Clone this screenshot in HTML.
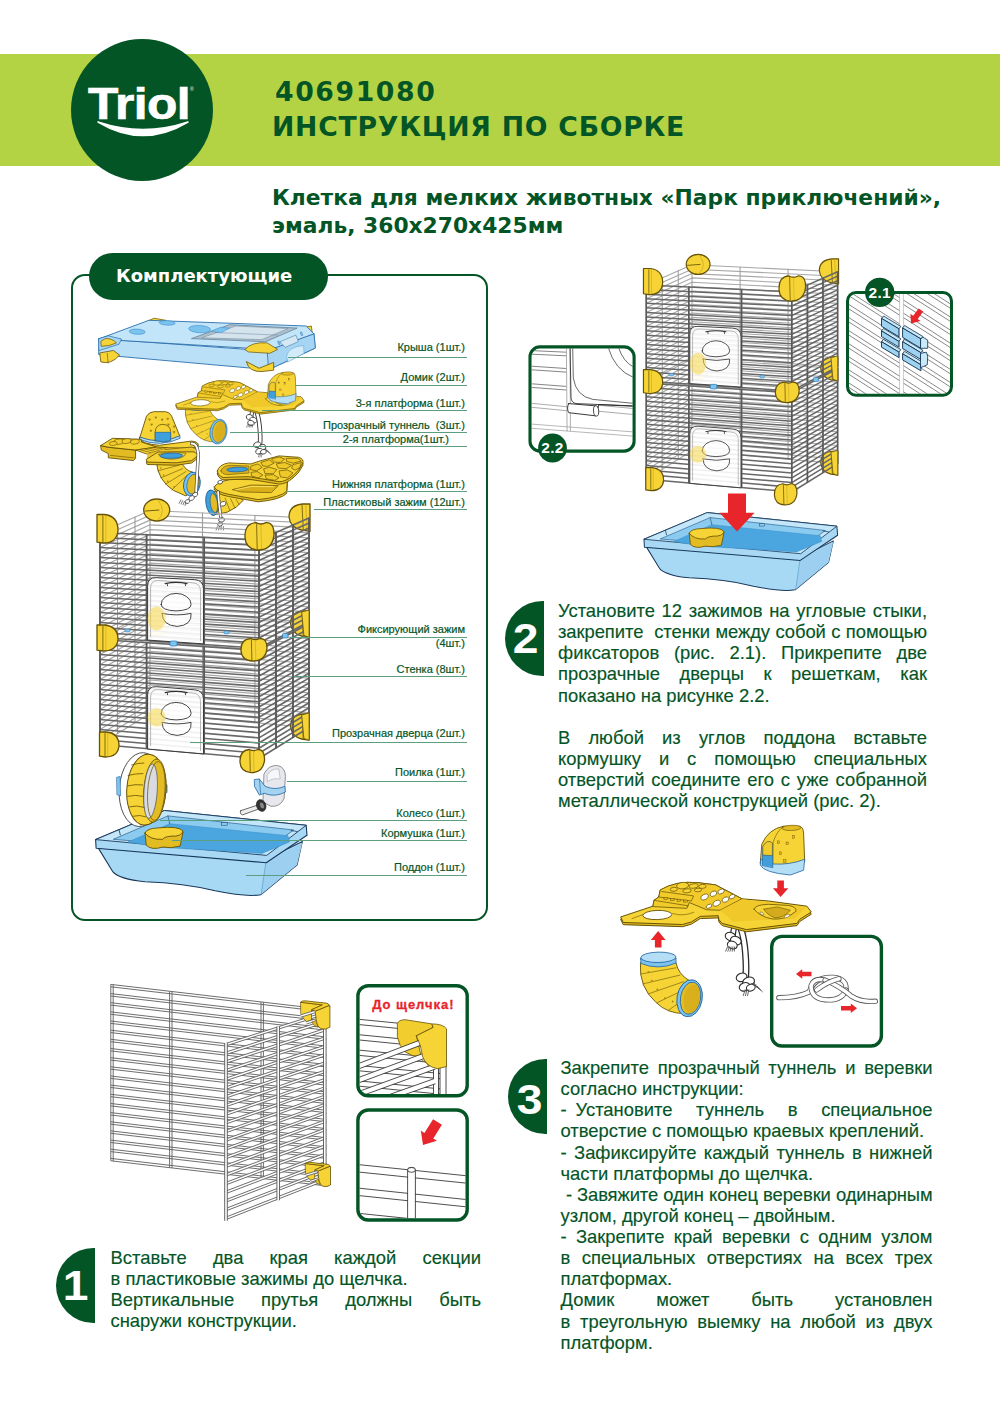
<!DOCTYPE html>
<html lang="ru">
<head>
<meta charset="utf-8">
<title>40691080 Инструкция по сборке</title>
<style>
html,body{margin:0;padding:0;background:#fff;}
body{width:1000px;height:1414px;position:relative;overflow:hidden;font-family:"Liberation Sans",sans-serif;color:#045526;}
.abs{position:absolute;}
.band{left:0;top:54px;width:1000px;height:112px;background:#b3d244;}
.logo{left:71px;top:39px;width:142px;height:142px;border-radius:50%;background:#045526;}
.logo-t{-webkit-text-stroke:0.7px #fff;left:68px;top:79px;width:142px;text-align:center;color:#fff;font-weight:bold;font-size:44px;line-height:50px;letter-spacing:-0.5px;transform:scaleX(1.13);transform-origin:50% 50%;}
.h1{left:275px;font-family:"DejaVu Sans","Liberation Sans",sans-serif;font-weight:bold;font-size:26.7px;line-height:32px;white-space:nowrap;color:#045526;}
.h2{left:272px;font-family:"DejaVu Sans","Liberation Sans",sans-serif;font-weight:bold;font-size:21.8px;line-height:28px;white-space:nowrap;color:#045526;}
.pill{left:89px;top:253px;width:239px;height:47px;border-radius:24px;background:#045526;color:#fff;font-family:"DejaVu Sans","Liberation Sans",sans-serif;font-weight:bold;font-size:18px;line-height:46px;}
.pill span{position:absolute;left:27px;top:0;white-space:nowrap;}
.box{left:71px;top:274px;width:412.5px;height:642.5px;border:2px solid #045526;border-radius:14px;box-sizing:content-box;}
.lbl{-webkit-text-stroke:0.2px #045526;font-size:11px;line-height:13px;white-space:nowrap;text-align:right;right:535px;color:#045526;}
.ll{height:1px;background:#5c9f7e;}
.badge span{display:inline-block;transform:scaleX(1.1);}
.badge{width:39px;height:75px;background:#045526;border-radius:38px 0 0 38px;color:#fff;font-weight:bold;font-size:42px;line-height:75px;text-align:center;}
.txt{-webkit-text-stroke:0.15px #045526;font-size:18.4px;line-height:21.13px;color:#045526;}
.txt div{height:21.13px;white-space:nowrap;}
.txt .d{display:inline-block;white-space:pre;}
.txt .j{text-align:justify;text-align-last:justify;white-space:normal;}
</style>
</head>
<body>
<div class="abs band"></div>
<div class="abs logo"></div>
<div class="abs logo-t">Triol</div>
<svg class="abs" style="left:71px;top:39px" width="142" height="142" viewBox="0 0 142 142"><path d="M27 83 Q72 98 117 83 Q72 110 27 83Z" fill="#fff" stroke="#fff" stroke-width="1.5" stroke-linejoin="round"/><text x="119" y="52" font-size="5" fill="#fff" font-family="Liberation Sans, sans-serif">®</text></svg>
<div class="abs h1" style="top:76px;letter-spacing:1.6px">40691080</div>
<div class="abs h1" style="top:111px;left:272px;letter-spacing:0.76px">ИНСТРУКЦИЯ ПО СБОРКЕ</div>
<div class="abs h2" style="top:184px">Клетка для мелких животных «Парк приключений»,</div>
<div class="abs h2" style="top:212px">эмаль, 360х270х425мм</div>

<div class="abs box"></div>
<div class="abs pill"><span>Комплектующие</span></div>

<!-- ILLUSTRATIONS -->
<svg class="abs" style="left:0;top:0" width="1000" height="1414" viewBox="0 0 1000 1414"><defs><g id="cage"><path d="M100 532.5L150 510.5M150 510.5L309 518M100 537.5L150 515.3M150 515.3L309 522.9M100 542.5L150 520.1M150 520.1L309 527.9M100 547.5L150 524.8M150 524.8L309 532.8M100 552.5L150 529.6M150 529.6L309 537.8M100 557.5L150 534.4M150 534.4L309 542.7M100 562.5L150 539.2M150 539.2L309 547.6M100 567.5L150 544M150 544L309 552.6M100 572.5L150 548.8M150 548.8L309 557.5M100 577.5L150 553.6M150 553.6L309 562.5M100 582.5L150 558.4M150 558.4L309 567.4M100 587.5L150 563.2M150 563.2L309 572.3M100 592.5L150 567.9M150 567.9L309 577.3M100 597.5L150 572.7M150 572.7L309 582.2M100 602.5L150 577.5M150 577.5L309 587.2M100 607.5L150 582.3M150 582.3L309 592.1M100 612.5L150 587.1M150 587.1L309 597.1M100 617.5L150 591.9M150 591.9L309 602M100 622.5L150 596.7M150 596.7L309 606.9M100 627.5L150 601.5M150 601.5L309 611.9M100 632.5L150 606.3M150 606.3L309 616.8M100 637.5L150 611M150 611L309 621.8M100 639.5L150 613M150 613L309 623.7M100 644.5L150 617.7M150 617.7L309 628.7M100 649.5L150 622.5M150 622.5L309 633.6M100 654.5L150 627.3M150 627.3L309 638.6M100 659.5L150 632.1M150 632.1L309 643.5M100 664.5L150 636.9M150 636.9L309 648.4M100 669.5L150 641.7M150 641.7L309 653.4M100 674.5L150 646.5M150 646.5L309 658.3M100 679.5L150 651.3M150 651.3L309 663.3M100 684.5L150 656.1M150 656.1L309 668.2M100 689.5L150 660.8M150 660.8L309 673.2M100 694.5L150 665.6M150 665.6L309 678.1M100 699.5L150 670.4M150 670.4L309 683M100 704.5L150 675.2M150 675.2L309 688M100 709.5L150 680M150 680L309 692.9M100 714.5L150 684.8M150 684.8L309 697.9M100 719.5L150 689.6M150 689.6L309 702.8M100 724.5L150 694.4M150 694.4L309 707.7M100 729.5L150 699.2M150 699.2L309 712.7M100 734.5L150 703.9M150 703.9L309 717.6M100 739.5L150 708.7M150 708.7L309 722.6M100 744.5L150 713.5M150 713.5L309 727.5" fill="none" stroke="#a8a8a8" stroke-width="1.2"/><path d="M117.5 524.3L117.5 628.7M117.5 629.7L117.5 734.1M135 516.6L135 619.5M135 620.4L135 723.3M150 510L150 611.5M150 612.5L150 714M202.5 512.5L202.5 615.1M202.5 616L202.5 718.6M254.9 515L254.9 618.6M254.9 619.6L254.9 723.2" fill="none" stroke="#9c9c9c" stroke-width="1.1"/><ellipse cx="157" cy="622" rx="10" ry="15" fill="#f7dd6e" stroke="#d9bb45" stroke-width="0.8" /><ellipse cx="156" cy="718" rx="8" ry="12" fill="#f8e28a" stroke="#e2c860" stroke-width="0.6" /><path d="M310 504 L302.6 504 Q289 505.3 289 517 Q290.1 527.4 301.6 530 L310 531.3 Z" fill="#f6d435" stroke="#665205" stroke-width="1.3" stroke-linejoin="round" stroke-linecap="round" /><line x1="302" y1="505" x2="303.3" y2="530" stroke="#665205" stroke-width="0.8"/><line x1="305.8" y1="505" x2="307.1" y2="530" stroke="#c9a41a" stroke-width="0.7"/><path d="M309.1 611 L302.6 611 Q290.6 612.2 290.6 623.5 Q291.5 633.5 301.7 636 L309.1 637.2 Z" fill="#f6d435" stroke="#665205" stroke-width="1.3" stroke-linejoin="round" stroke-linecap="round" /><line x1="302.1" y1="612" x2="303.2" y2="636" stroke="#665205" stroke-width="0.8"/><line x1="305.4" y1="612" x2="306.5" y2="636" stroke="#c9a41a" stroke-width="0.7"/><path d="M309.1 714 L302.6 714 Q290.6 715.2 290.6 726.5 Q291.5 736.5 301.7 739 L309.1 740.2 Z" fill="#f6d435" stroke="#665205" stroke-width="1.3" stroke-linejoin="round" stroke-linecap="round" /><line x1="302.1" y1="715" x2="303.2" y2="739" stroke="#665205" stroke-width="0.8"/><line x1="305.4" y1="715" x2="306.5" y2="739" stroke="#c9a41a" stroke-width="0.7"/><path d="M100 532.5L259 540M259 540L309 518M100 537.5L259 545.2M259 545.2L309 522.9M100 542.5L259 550.3M259 550.3L309 527.9M100 547.5L259 555.5M259 555.5L309 532.8M100 552.5L259 560.6M259 560.6L309 537.8M100 557.5L259 565.8M259 565.8L309 542.7M100 562.5L259 570.9M259 570.9L309 547.6M100 567.5L259 576.1M259 576.1L309 552.6M100 572.5L259 581.2M259 581.2L309 557.5M100 577.5L259 586.4M259 586.4L309 562.5M100 582.5L259 591.5M259 591.5L309 567.4M100 587.5L259 596.7M259 596.7L309 572.3M100 592.5L259 601.8M259 601.8L309 577.3M100 597.5L259 607M259 607L309 582.2M100 602.5L259 612.2M259 612.2L309 587.2M100 607.5L259 617.3M259 617.3L309 592.1M100 612.5L259 622.5M259 622.5L309 597.1M100 617.5L259 627.6M259 627.6L309 602M100 622.5L259 632.8M259 632.8L309 606.9M100 627.5L259 637.9M259 637.9L309 611.9M100 632.5L259 643.1M259 643.1L309 616.8M100 637.5L259 648.2M259 648.2L309 621.8M100 639.5L259 650.3M259 650.3L309 623.7M100 644.5L259 655.4M259 655.4L309 628.7M100 649.5L259 660.6M259 660.6L309 633.6M100 654.5L259 665.7M259 665.7L309 638.6M100 659.5L259 670.9M259 670.9L309 643.5M100 664.5L259 676M259 676L309 648.4M100 669.5L259 681.2M259 681.2L309 653.4M100 674.5L259 686.3M259 686.3L309 658.3M100 679.5L259 691.5M259 691.5L309 663.3M100 684.5L259 696.7M259 696.7L309 668.2M100 689.5L259 701.8M259 701.8L309 673.2M100 694.5L259 707M259 707L309 678.1M100 699.5L259 712.1M259 712.1L309 683M100 704.5L259 717.3M259 717.3L309 688M100 709.5L259 722.4M259 722.4L309 692.9M100 714.5L259 727.6M259 727.6L309 697.9M100 719.5L259 732.7M259 732.7L309 702.8M100 724.5L259 737.9M259 737.9L309 707.7M100 729.5L259 743M259 743L309 712.7M100 734.5L259 748.2M259 748.2L309 717.6M100 739.5L259 753.3M259 753.3L309 722.6M100 744.5L259 758.5M259 758.5L309 727.5" fill="none" stroke="#686868" stroke-width="1.65"/><path d="M100 532L100 638M100 639L100 745M146.6 534.2L146.6 641.1M146.6 642.2L146.6 749.1M204.1 536.9L204.1 645M204.1 646.1L204.1 754.2M259 539.5L259 648.7M259 649.8L259 759M276 532L276 639.7M276 640.7L276 748.5M293 524.5L293 630.7M293 631.7L293 737.9M309 517.5L309 622.3M309 623.2L309 728" fill="none" stroke="#5a5a5a" stroke-width="1.9"/><path d="M147.6 639.7 L147.6 586.1 Q147.6 577.1 156.6 577.7 L194.5 579.6 Q203.5 580.2 203.5 589.2 L203.5 643.5 Z" fill="#ffffff" stroke="#3c3c3c" stroke-width="1.0" stroke-linejoin="round" stroke-linecap="round" fill-opacity="0.9"/><path d="M150.6 636.7 L150.6 588.1 Q150.6 580.1 158.6 580.5 L192.5 582.8 Q200.5 583.2 200.5 591.2 L200.5 640.5" fill="none" stroke="#9a9a9a" stroke-width="0.7" stroke-linejoin="round" stroke-linecap="round" /><path d="M161.1 604.4 a15 11 0 0 1 30 0 q0 6 -15 6.5 q-15 -0.5 -15 -6.5Z" fill="#ffffff" stroke="#333" stroke-width="0.9" stroke-linejoin="round" stroke-linecap="round" fill-opacity="0.6"/><path d="M162.1 613.4 q15 3 29 0 q1 12 -14 13 q-15 -1 -15 -13Z" fill="#ffffff" stroke="#333" stroke-width="0.9" stroke-linejoin="round" stroke-linecap="round" fill-opacity="0.6"/><path d="M165.1 583.6 q11 -2.5 22 0" fill="none" stroke="#333" stroke-width="1.1" stroke-linejoin="round" stroke-linecap="round" /><line x1="167.1" y1="583.1" x2="167.6" y2="586.1" stroke="#333" stroke-width="0.9"/><line x1="185.1" y1="583.1" x2="185.6" y2="586.1" stroke="#333" stroke-width="0.9"/><ellipse cx="156.6" cy="618.4" rx="9" ry="12" fill="#f6d74e" stroke="none" stroke-width="0" fill-opacity="0.55"/><path d="M147.6 748.7 L147.6 695.1 Q147.6 686.1 156.6 686.7 L194.5 689.8 Q203.5 690.4 203.5 699.4 L203.5 753.6 Z" fill="#ffffff" stroke="#3c3c3c" stroke-width="1.0" stroke-linejoin="round" stroke-linecap="round" fill-opacity="0.9"/><path d="M150.6 745.7 L150.6 697.1 Q150.6 689.1 158.6 689.5 L192.5 693 Q200.5 693.4 200.5 701.4 L200.5 750.6" fill="none" stroke="#9a9a9a" stroke-width="0.7" stroke-linejoin="round" stroke-linecap="round" /><path d="M161.1 713.4 a15 11 0 0 1 30 0 q0 6 -15 6.5 q-15 -0.5 -15 -6.5Z" fill="#ffffff" stroke="#333" stroke-width="0.9" stroke-linejoin="round" stroke-linecap="round" fill-opacity="0.6"/><path d="M162.1 722.4 q15 3 29 0 q1 12 -14 13 q-15 -1 -15 -13Z" fill="#ffffff" stroke="#333" stroke-width="0.9" stroke-linejoin="round" stroke-linecap="round" fill-opacity="0.6"/><path d="M165.1 692.6 q11 -2.5 22 0" fill="none" stroke="#333" stroke-width="1.1" stroke-linejoin="round" stroke-linecap="round" /><line x1="167.1" y1="692.1" x2="167.6" y2="695.1" stroke="#333" stroke-width="0.9"/><line x1="185.1" y1="692.1" x2="185.6" y2="695.1" stroke="#333" stroke-width="0.9"/><ellipse cx="156.6" cy="717.4" rx="9" ry="9" fill="#f6d74e" stroke="none" stroke-width="0" fill-opacity="0.55"/><rect x="170" y="641" width="7" height="5" rx="1" fill="#7cc3ee" stroke="#2c78b5" stroke-width="0.7" /><rect x="282.5" y="633.5" width="5.5" height="4.5" rx="1" fill="#7cc3ee" stroke="#2c78b5" stroke-width="0.7" /><rect x="125" y="629" width="5" height="3" rx="1" fill="#7cc3ee" stroke="#2c78b5" stroke-width="0.5" /><rect x="224" y="631" width="5" height="3" rx="1" fill="#7cc3ee" stroke="#2c78b5" stroke-width="0.5" /><polygon points="301.7,612 309.1,610 309.1,637.2 303.9,635.5" fill="#f6d435" stroke="#665205" stroke-width="0.8" stroke-linejoin="round" /><polygon points="301.7,715 309.1,713 309.1,740.2 303.9,738.5" fill="#f6d435" stroke="#665205" stroke-width="0.8" stroke-linejoin="round" /><ellipse cx="156.7" cy="510" rx="13" ry="11" fill="#f6d435" stroke="#665205" stroke-width="1.3" /><line x1="144.7" y1="511.1" x2="159.3" y2="510" stroke="#665205" stroke-width="0.9"/><path d="M158 500 q9.1 11 0 20" fill="none" stroke="#c9a41a" stroke-width="0.7" stroke-linejoin="round" stroke-linecap="round" /><path d="M97 514.5 L104.3 514.5 Q118 515.9 118 530.2 Q117 543 103.3 543 L97 542.1 Z" fill="#f6d435" stroke="#665205" stroke-width="1.3" stroke-linejoin="round" stroke-linecap="round" /><line x1="102.9" y1="515.5" x2="102.9" y2="542" stroke="#665205" stroke-width="0.8"/><line x1="105.8" y1="515.5" x2="105.8" y2="542" stroke="#c9a41a" stroke-width="0.6"/><path d="M256 522.6 Q245 523.4 245 536 L245 537.4 Q245.6 549.2 258.1 550 Q272.6 550 274 534.6 Q274 522 265.9 522.6 Q260.9 525.4 256 522.6 Z" fill="#f6d435" stroke="#665205" stroke-width="1.3" stroke-linejoin="round" stroke-linecap="round" /><line x1="256.6" y1="523.5" x2="257.2" y2="549" stroke="#665205" stroke-width="0.8"/><line x1="260.9" y1="525" x2="261.5" y2="549" stroke="#c9a41a" stroke-width="0.6"/><path d="M97 625 L104.3 625 Q118 626.3 118 639.3 Q117 651 103.3 651 L97 650.2 Z" fill="#f6d435" stroke="#665205" stroke-width="1.3" stroke-linejoin="round" stroke-linecap="round" /><line x1="102.9" y1="626" x2="102.9" y2="650" stroke="#665205" stroke-width="0.8"/><line x1="105.8" y1="626" x2="105.8" y2="650" stroke="#c9a41a" stroke-width="0.6"/><path d="M250.9 638.5 Q241 639.1 241 649.5 L241 650.6 Q241.5 660.3 252.7 661 Q265.7 661 267 648.4 Q267 638 259.7 638.5 Q255.3 640.8 250.9 638.5 Z" fill="#f6d435" stroke="#665205" stroke-width="1.3" stroke-linejoin="round" stroke-linecap="round" /><line x1="251.4" y1="639.5" x2="251.9" y2="660" stroke="#665205" stroke-width="0.8"/><line x1="255.3" y1="641" x2="255.8" y2="660" stroke="#c9a41a" stroke-width="0.6"/><path d="M99.5 732 L106.3 732 Q119 733.2 119 745.8 Q118 757 105.3 757 L99.5 756.2 Z" fill="#f6d435" stroke="#665205" stroke-width="1.3" stroke-linejoin="round" stroke-linecap="round" /><line x1="105" y1="733" x2="105" y2="756" stroke="#665205" stroke-width="0.8"/><line x1="107.7" y1="733" x2="107.7" y2="756" stroke="#c9a41a" stroke-width="0.6"/><path d="M249.3 749.5 Q240 750.2 240 760.8 L240 762 Q240.5 771.9 251.1 772.6 Q263.4 772.6 264.6 759.6 Q264.6 749 257.7 749.5 Q253.5 751.8 249.3 749.5 Z" fill="#f6d435" stroke="#665205" stroke-width="1.3" stroke-linejoin="round" stroke-linecap="round" /><line x1="249.8" y1="750.5" x2="250.3" y2="771.6" stroke="#665205" stroke-width="0.8"/><line x1="253.5" y1="752" x2="254" y2="771.6" stroke="#c9a41a" stroke-width="0.6"/></g><g id="tray"><path d="M98.2 847.9L112.5 871.3Q119 879.1 145 881.7Q184 883 215.2 890.8Q246.4 897.3 260.7 894.7L297.1 864.8L302.3 841.4L265.9 859.6Z" fill="#a8d9f4" stroke="#17395c" stroke-width="1.1" stroke-linejoin="round" stroke-linecap="round" /><path d="M265.9 862.2L260.7 894.7L297.1 864.8L302.3 842.7Z" fill="#9ccff0" stroke="none" stroke-width="0" stroke-linejoin="round" stroke-linecap="round" /><polyline points="265.9,862.2 261.2,894.4" fill="none" stroke="#5a9ccc" stroke-width="0.7" stroke-linejoin="round" stroke-linecap="round" /><polygon points="95.6,839.6 164.5,810.5 306.2,825.3 307,835.2 266.2,862.7 96.1,848.2" fill="#a9d8f4" stroke="#17395c" stroke-width="1.1" stroke-linejoin="round" /><polygon points="95.6,839.6 164.5,810.5 306.2,825.3 266.7,855.4" fill="#c4e6f9" stroke="#17395c" stroke-width="0.9" stroke-linejoin="round" /><polygon points="113.3,839.3 167.9,815.9 293.7,830 263.6,851.8" fill="#8ccbf0" stroke="#2a5f8f" stroke-width="0.7" stroke-linejoin="round" /><polygon points="128.1,841.9 169.7,823.7 288,835.7 289.6,841.9 262,853.4 158,847.1" fill="#4ba5de" stroke="#3a8cc8" stroke-width="0.5" stroke-linejoin="round" /><polyline points="167.9,815.9 169.7,823.7" fill="none" stroke="#17395c" stroke-width="0.6" stroke-linejoin="round" stroke-linecap="round" /><polyline points="119,829.7 120.3,834.9" fill="none" stroke="#17395c" stroke-width="0.8" stroke-linejoin="round" stroke-linecap="round" /><polyline points="291.1,830.5 297.1,831.5" fill="none" stroke="#17395c" stroke-width="0.8" stroke-linejoin="round" stroke-linecap="round" /><rect x="221.7" y="822.7" width="5.5" height="2.5" rx="0" fill="#8ccbf0" stroke="#17395c" stroke-width="0.5" /><path d="M145 833.1L146.3 845.3Q151.5 850.5 162.7 847.1Q171 848.7 180.1 846.1L183 832.3Z" fill="#e3bb22" stroke="#665205" stroke-width="0.9" stroke-linejoin="round" stroke-linecap="round" /><path d="M145 833.1Q146.3 828.4 158 827.9Q178.8 825.8 183 831Q181.9 836.7 171 836.2Q164.5 836.7 162.7 839.3Q150.2 840.1 145 833.1Z" fill="#f6d435" stroke="#665205" stroke-width="0.9" stroke-linejoin="round" stroke-linecap="round" /></g></defs>
<g id="partsbox"><path d="M148.1 320.8L154.1 318.2L165.8 320.3L158 322.9Z" fill="#f6d435" stroke="#665205" stroke-width="0.7" stroke-linejoin="round" stroke-linecap="round" /><path d="M304.1 327.3L311.4 326L312.7 336.4L308.8 339Z" fill="#f6d435" stroke="#665205" stroke-width="0.7" stroke-linejoin="round" stroke-linecap="round" /><path d="M98.7 339L98.7 354.6L259.4 368.9L268.5 369.7L315.3 348.1L314 333.8L267.2 350.7Z" fill="#b9e0f7" stroke="#2a6fae" stroke-width="0.9" stroke-linejoin="round" stroke-linecap="round" /><path d="M267.2 350.7L268.5 369.7L315.3 348.1L314 333.8Z" fill="#a5d5f3" stroke="#2a6fae" stroke-width="0.8" stroke-linejoin="round" stroke-linecap="round" /><path d="M98.7 339L148.9 320.3L306.2 326L314 333.8L267.2 350.7L246.4 348.1Z" fill="#c3e5f9" stroke="#2a6fae" stroke-width="0.9" stroke-linejoin="round" stroke-linecap="round" /><ellipse cx="137.2" cy="331.7" rx="8" ry="2.6" fill="#7cc3ee" stroke="#3a8fd0" stroke-width="0.6" transform="rotate(3 137.2 331.7)" /><ellipse cx="167.1" cy="322.9" rx="8" ry="2.2" fill="#7cc3ee" stroke="#3a8fd0" stroke-width="0.6" transform="rotate(3 167.1 322.9)" /><ellipse cx="199.6" cy="329.1" rx="11" ry="3.6" fill="#7cc3ee" stroke="#3a8fd0" stroke-width="0.6" transform="rotate(3 199.6 329.1)" /><path d="M191.8 338.5L229.5 324.7L297.1 328.1L265.9 341.6Z" fill="#aebfcc" stroke="#5a7890" stroke-width="0.7" stroke-linejoin="round" stroke-linecap="round" /><path d="M202.2 337.7L236 326L288 328.6L262 339.5Z" fill="#d5e3ec" stroke="#6f8aa0" stroke-width="0.5" stroke-linejoin="round" stroke-linecap="round" /><polyline points="215.2,332.5 277.6,335.1" fill="none" stroke="#6f8aa0" stroke-width="0.5" stroke-linejoin="round" stroke-linecap="round" /><path d="M211.3 331.2L220.4 327.3L229.5 328.1L221.7 332.5Z" fill="#7cc3ee" stroke="#3a8fd0" stroke-width="0.5" stroke-linejoin="round" stroke-linecap="round" /><path d="M98.7 339L98.7 350.7L119 344.2L121.6 339L108.6 335.9Z" fill="#a5d5f3" stroke="#2a6fae" stroke-width="0.7" stroke-linejoin="round" stroke-linecap="round" /><path d="M100.8 341.6L101.3 346.3Q109.9 346.3 116.4 342.9Q112.5 338.5 106 338.5Z" fill="#f6d435" stroke="#665205" stroke-width="0.7" stroke-linejoin="round" stroke-linecap="round" /><path d="M245.1 349.4Q251.6 341.6 267.2 342.9L277.6 349.4L269.8 353.3L249 352Z" fill="#f6d435" stroke="#665205" stroke-width="0.7" stroke-linejoin="round" stroke-linecap="round" /><path d="M246.4 361.9Q249 372.3 262 371.5L273.7 370.2L273.7 362.4L259.4 368.1Z" fill="#f6d435" stroke="#665205" stroke-width="0.8" stroke-linejoin="round" stroke-linecap="round" /><path d="M99.8 353.3L100.8 361.9Q111.2 365 119.5 355.1L113.8 350.7Z" fill="#f6d435" stroke="#665205" stroke-width="0.8" stroke-linejoin="round" stroke-linecap="round" /><path d="M107.3 353.3L108.1 363.2" fill="none" stroke="#665205" stroke-width="0.6" stroke-linejoin="round" stroke-linecap="round" /><path d="M280.2 341.6L295.8 335.1L298.4 341.6L285.4 347.3Z" fill="#d5e8f3" stroke="#4a7fa8" stroke-width="0.6" stroke-linejoin="round" stroke-linecap="round" /><path d="M286.7 355.9Q288 346.8 303.6 345.5L304.1 353.3L288 361.9Z" fill="#d2ebf9" stroke="#5a9ccc" stroke-width="0.5" stroke-linejoin="round" stroke-linecap="round" /><ellipse cx="278.9" cy="342.9" rx="0.9" ry="2.2" fill="#7cc3ee" stroke="#2a6fae" stroke-width="0.4" transform="rotate(-20 278.9 342.9)" /><ellipse cx="301.5" cy="333.8" rx="0.9" ry="2.2" fill="#7cc3ee" stroke="#2a6fae" stroke-width="0.4" transform="rotate(-20 301.5 333.8)" /><use href="#s3tun" transform="translate(-246.3,-241.2) scale(0.674)"/><use href="#s3plat" transform="translate(-242.6,-213.9) scale(0.674)"/><use href="#s3house" transform="translate(-221.4,-158.8) scale(0.643)"/><path d="M156.3 461.7Q158 480.6 173.4 490.4L186 496L198.6 483.4L193 472.2Q184.6 470.8 181.5 461.7Z" fill="#f6d435" stroke="#665205" stroke-width="0.9" stroke-linejoin="round" stroke-linecap="round" /><polyline points="158,470.8 179,465.2" fill="none" stroke="#665205" stroke-width="0.6" stroke-linejoin="round" stroke-linecap="round" /><polyline points="160.8,477.8 182.5,468.7" fill="none" stroke="#665205" stroke-width="0.6" stroke-linejoin="round" stroke-linecap="round" /><polyline points="165.7,484.1 186,471.5" fill="none" stroke="#665205" stroke-width="0.6" stroke-linejoin="round" stroke-linecap="round" /><polyline points="172,489.7 187.4,475" fill="none" stroke="#665205" stroke-width="0.6" stroke-linejoin="round" stroke-linecap="round" /><ellipse cx="160.8" cy="468" rx="0.8" ry="0.8" fill="#9a7a10" stroke="none" stroke-width="1" /><ellipse cx="163.6" cy="475" rx="0.8" ry="0.8" fill="#9a7a10" stroke="none" stroke-width="1" /><ellipse cx="167.8" cy="481.3" rx="0.8" ry="0.8" fill="#9a7a10" stroke="none" stroke-width="1" /><ellipse cx="174.1" cy="486.9" rx="0.8" ry="0.8" fill="#9a7a10" stroke="none" stroke-width="1" /><ellipse cx="191.9" cy="484.1" rx="8.2" ry="12" fill="#7cc3ee" stroke="#1f64a3" stroke-width="0.9" transform="rotate(12 191.9 484.1)" /><ellipse cx="193" cy="484.2" rx="6" ry="10" fill="#e3bb22" stroke="#1f64a3" stroke-width="0.7" transform="rotate(12 193 484.2)" /><path d="M139.5 438.3Q141.2 443.9 159.4 445.3L191.6 441.1Q198.9 441.7 198.3 445.9L193 448.1L156.6 447.3L141.2 442.1Z" fill="#f6d435" stroke="#665205" stroke-width="0.9" stroke-linejoin="round" stroke-linecap="round" /><path d="M139.8 437.5L146.5 416.2Q148.9 412 153.8 411.7L165.7 411.7Q169.9 412.3 171.7 416.2L179.8 436.1Q160.8 445.6 139.8 437.5Z" fill="#f6d435" stroke="#665205" stroke-width="0.9" stroke-linejoin="round" stroke-linecap="round" /><path d="M139.8 437.2Q160.8 444.9 179.8 435.8L180.1 438.3Q160.8 447.7 140.1 439.7Z" fill="#b4def6" stroke="#1f64a3" stroke-width="0.8" stroke-linejoin="round" stroke-linecap="round" /><path d="M148.9 419 l1.6 0 l-0.8 1.4Z" fill="#b8941a" stroke="#665205" stroke-width="0.4" stroke-linejoin="round" stroke-linecap="round" /><path d="M155.2 416.9 l1.6 0 l-0.8 1.4Z" fill="#b8941a" stroke="#665205" stroke-width="0.4" stroke-linejoin="round" stroke-linecap="round" /><path d="M161.5 419 l1.6 0 l-0.8 1.4Z" fill="#b8941a" stroke="#665205" stroke-width="0.4" stroke-linejoin="round" stroke-linecap="round" /><path d="M167.1 418.3 l1.6 0 l-0.8 1.4Z" fill="#b8941a" stroke="#665205" stroke-width="0.4" stroke-linejoin="round" stroke-linecap="round" /><path d="M151 423.9 l1.6 0 l-0.8 1.4Z" fill="#b8941a" stroke="#665205" stroke-width="0.4" stroke-linejoin="round" stroke-linecap="round" /><path d="M173.4 426 l1.6 0 l-0.8 1.4Z" fill="#b8941a" stroke="#665205" stroke-width="0.4" stroke-linejoin="round" stroke-linecap="round" /><path d="M150.3 430.2 l1.6 0 l-0.8 1.4Z" fill="#b8941a" stroke="#665205" stroke-width="0.4" stroke-linejoin="round" stroke-linecap="round" /><path d="M173.4 431.6 l1.6 0 l-0.8 1.4Z" fill="#b8941a" stroke="#665205" stroke-width="0.4" stroke-linejoin="round" stroke-linecap="round" /><path d="M167.8 423.9 l1.6 0 l-0.8 1.4Z" fill="#b8941a" stroke="#665205" stroke-width="0.4" stroke-linejoin="round" stroke-linecap="round" /><path d="M155.2 440.7L155.2 431.6Q155.9 424.6 162.9 424.3Q170.3 424.9 170.6 431.6L170.6 440.7Q162.9 443.1 155.2 440.7Z" fill="#f6d435" stroke="#665205" stroke-width="0.8" stroke-linejoin="round" stroke-linecap="round" /><path d="M155.2 440.7L155.2 432.3L170.6 432.3L170.6 440.7Q162.9 443.1 155.2 440.7Z" fill="#3f9fdc" stroke="#1f64a3" stroke-width="0.7" stroke-linejoin="round" stroke-linecap="round" /><polygon points="100.6,445.6 109,447.3 135.6,450.1 135.6,458.2 133.5,460.6 108.3,457.8 108.3,453.6 101.3,450.1" fill="#e3bb22" stroke="#665205" stroke-width="0.9" stroke-linejoin="round" /><polyline points="110.4,455.4 134.2,457.9" fill="none" stroke="#665205" stroke-width="0.6" stroke-linejoin="round" stroke-linecap="round" /><polygon points="100.6,445.6 112.5,438.3 141.2,439.3 141.5,442.1 156.6,447 135.6,450.1 109,447.3" fill="#f6d435" stroke="#665205" stroke-width="0.9" stroke-linejoin="round" /><ellipse cx="118.8" cy="441.7" rx="5" ry="2.6" fill="#f3cd2c" stroke="#665205" stroke-width="0.6" transform="rotate(-5 118.8 441.7)" /><ellipse cx="126.5" cy="441.1" rx="4.5" ry="2.4" fill="#f3cd2c" stroke="#665205" stroke-width="0.6" transform="rotate(-5 126.5 441.1)" /><ellipse cx="134.9" cy="441.7" rx="4.5" ry="2.4" fill="#f3cd2c" stroke="#665205" stroke-width="0.6" transform="rotate(-5 134.9 441.7)" /><ellipse cx="113.2" cy="443.5" rx="4" ry="2" fill="#f3cd2c" stroke="#665205" stroke-width="0.6" transform="rotate(-5 113.2 443.5)" /><polygon points="135.6,450.1 156.6,447 167.8,447.8 147.5,454.3" fill="#f6d435" stroke="#665205" stroke-width="0.8" stroke-linejoin="round" /><polyline points="139.8,449.8 151,452.6" fill="none" stroke="#665205" stroke-width="0.6" stroke-linejoin="round" stroke-linecap="round" /><polyline points="144.7,449.1 155.5,451.5" fill="none" stroke="#665205" stroke-width="0.6" stroke-linejoin="round" stroke-linecap="round" /><polyline points="149.6,448.4 160,450.4" fill="none" stroke="#665205" stroke-width="0.6" stroke-linejoin="round" stroke-linecap="round" /><polyline points="154.5,447.7 164.4,449.2" fill="none" stroke="#665205" stroke-width="0.6" stroke-linejoin="round" stroke-linecap="round" /><polygon points="147.5,454.3 167.8,447.8 193,447.8 198.3,450.5 193,452.9 158,452.3 146.5,459.6" fill="#ecc52a" stroke="none" stroke-width="0" stroke-linejoin="round" /><g transform="translate(0,2.4)"><path d="M146.5 459.3L158 452L193 451.8Q198.6 453.3 197.9 455.7L191.6 460.6L176.2 462.8L147.5 462.1Z" fill="#e3bb22" stroke="#665205" stroke-width="0.9" stroke-linejoin="round" stroke-linecap="round" /></g><path d="M146.5 459.3L158 452L193 451.8Q198.6 453.3 197.9 455.7L191.6 460.6L176.2 462.8L147.5 462.1Z" fill="#f6d435" stroke="#665205" stroke-width="0.9" stroke-linejoin="round" stroke-linecap="round" /><path d="M158.7 454.3Q171.3 450.5 186 453.3Q184.6 458.9 170.6 459.3Q159.4 458.2 158.7 454.3Z" fill="#f3cd2c" stroke="#665205" stroke-width="0.6" stroke-linejoin="round" stroke-linecap="round" /><ellipse cx="171.3" cy="455.7" rx="11.5" ry="2.6" fill="#3f9fdc" stroke="#1f64a3" stroke-width="0.8" transform="rotate(-1 171.3 455.7)" /><polyline points="165,449.5 191.6,447 197.9,449.8" fill="none" stroke="#665205" stroke-width="0.7" stroke-linejoin="round" stroke-linecap="round" /><path d="M191.6 443.5 Q197.2 442.8 198.3 454 L196.1 492.5" fill="none" stroke="#444" stroke-width="3.4" stroke-linejoin="round" stroke-linecap="round" /><path d="M191.6 443.5 Q197.2 442.8 198.3 454 L196.1 492.5" fill="none" stroke="#fff" stroke-width="2.0" stroke-linejoin="round" stroke-linecap="round" /><ellipse cx="195.1" cy="494.6" rx="2.8" ry="2.1" fill="#fff" stroke="#444" stroke-width="0.8" transform="rotate(-30 195.1 494.6)" /><ellipse cx="191.6" cy="498.1" rx="3" ry="2.2" fill="#fff" stroke="#444" stroke-width="0.8" transform="rotate(-30 191.6 498.1)" /><ellipse cx="187.4" cy="501.6" rx="2.4" ry="1.8" fill="#fff" stroke="#444" stroke-width="0.8" transform="rotate(-30 187.4 501.6)" /><line x1="181.1" y1="499.5" x2="179" y2="503.7" stroke="#444" stroke-width="0.7"/><line x1="182.8" y1="500.3" x2="181" y2="504.4" stroke="#444" stroke-width="0.7"/><line x1="184.5" y1="501.2" x2="182.9" y2="505.1" stroke="#444" stroke-width="0.7"/><line x1="186.1" y1="502" x2="184.9" y2="505.8" stroke="#444" stroke-width="0.7"/><path d="M213.2 491.2L237 496.1L243.3 500.3Q237 508 227.2 512.2L212.5 515Z" fill="#f6d435" stroke="#665205" stroke-width="0.9" stroke-linejoin="round" stroke-linecap="round" /><polyline points="225.1,498.2 230,510.8" fill="none" stroke="#665205" stroke-width="0.6" stroke-linejoin="round" stroke-linecap="round" /><polyline points="230.7,498.9 234.9,508" fill="none" stroke="#665205" stroke-width="0.6" stroke-linejoin="round" stroke-linecap="round" /><polyline points="236.3,499.6 239.1,504.5" fill="none" stroke="#665205" stroke-width="0.6" stroke-linejoin="round" stroke-linecap="round" /><ellipse cx="212.1" cy="502.7" rx="6.2" ry="12.8" fill="#3f9fdc" stroke="#1f64a3" stroke-width="0.9" transform="rotate(-8 212.1 502.7)" /><ellipse cx="213.9" cy="503.1" rx="3.6" ry="9.6" fill="#e3bb22" stroke="#1f64a3" stroke-width="0.7" transform="rotate(-8 213.9 503.1)" /><g transform="translate(0,2.2)"><path d="M214.3 487Q216 482.5 230 479.4L287.4 480L286.7 491.2Q280.4 497.5 258 499.6L228.6 494.3Q216 491.9 214.3 487Z" fill="#e3bb22" stroke="#665205" stroke-width="0.9" stroke-linejoin="round" stroke-linecap="round" /></g><path d="M214.3 487Q216 482.5 230 479.4L287.4 480L286.7 491.2Q280.4 497.5 258 499.6L228.6 494.3Q216 491.9 214.3 487Z" fill="#f6d435" stroke="#665205" stroke-width="0.9" stroke-linejoin="round" stroke-linecap="round" /><path d="M232.8 489.5L251 485L278.3 485.6L271.3 492.6L241.9 492Z" fill="#d9b01c" stroke="#665205" stroke-width="0.7" stroke-linejoin="round" stroke-linecap="round" /><path d="M235.6 489.8L251.7 486.4L273.4 486.7" fill="none" stroke="#f8e060" stroke-width="1.0" stroke-linejoin="round" stroke-linecap="round" /><ellipse cx="220.2" cy="482.5" rx="2" ry="1.3" fill="#fff" stroke="#665205" stroke-width="0.5" /><g transform="translate(0,2.4)"><path d="M217.4 470.9Q218.8 464.6 228.6 462.9L251 463.9L260.8 460.7L279 455.9L298.6 457.3Q304.2 459 302.8 463.2Q298.6 471.6 293 475.5Q286 481.7 279 481.7L248.2 476.6L223 477.5Q217.4 475.1 217.4 470.9Z" fill="#e3bb22" stroke="#665205" stroke-width="0.9" stroke-linejoin="round" stroke-linecap="round" /></g><path d="M217.4 470.9Q218.8 464.6 228.6 462.9L251 463.9L260.8 460.7L279 455.9L298.6 457.3Q304.2 459 302.8 463.2Q298.6 471.6 293 475.5Q286 481.7 279 481.7L248.2 476.6L223 477.5Q217.4 475.1 217.4 470.9Z" fill="#f6d435" stroke="#665205" stroke-width="0.9" stroke-linejoin="round" stroke-linecap="round" /><path d="M220.9 470.9Q222.3 466 230 465.3L248.9 466L248.9 473L227.2 474.7Q220.9 473.7 220.9 470.9Z" fill="#d9b01c" stroke="#665205" stroke-width="0.6" stroke-linejoin="round" stroke-linecap="round" /><ellipse cx="237.3" cy="469.5" rx="10.6" ry="2.3" fill="#3f9fdc" stroke="#1f64a3" stroke-width="0.8" transform="rotate(-2 237.3 469.5)" /><polygon points="251,466 258,463.9 262.2,467.4 256.6,470.9 250.3,469.5" fill="#efc92a" stroke="#665205" stroke-width="0.7" stroke-linejoin="round" /><polygon points="260.8,462.5 269.2,459.7 274.1,463.2 267.8,466.3 262.9,466" fill="#efc92a" stroke="#665205" stroke-width="0.7" stroke-linejoin="round" /><polygon points="271.3,459 279,456.9 284.6,459 280.4,462.5 274.8,462.1" fill="#efc92a" stroke="#665205" stroke-width="0.7" stroke-linejoin="round" /><polygon points="286,458.3 297.9,458.3 301.4,461.1 293,463.2 286.7,461.5" fill="#efc92a" stroke="#665205" stroke-width="0.7" stroke-linejoin="round" /><polygon points="251,472.3 257.3,471.6 262.9,475.1 258,477.9 251.7,476.1" fill="#efc92a" stroke="#665205" stroke-width="0.7" stroke-linejoin="round" /><polygon points="263.6,468.8 269.2,467.1 276.9,469.5 273.4,473.7 265,473.7" fill="#efc92a" stroke="#665205" stroke-width="0.7" stroke-linejoin="round" /><polygon points="276.2,463.9 284.6,462.5 291.6,465.3 286,468.8 278.3,468.1" fill="#efc92a" stroke="#665205" stroke-width="0.7" stroke-linejoin="round" /><polygon points="293,464.6 301.4,462.5 300,467.4 295.1,470.2 291.6,468.1" fill="#efc92a" stroke="#665205" stroke-width="0.7" stroke-linejoin="round" /><polygon points="265,475.1 273.4,474.7 279,477.9 274.8,480.3 266.4,478.9" fill="#efc92a" stroke="#665205" stroke-width="0.7" stroke-linejoin="round" /><polygon points="279,470.9 287.4,469.9 293,473 287.4,477.9 280.4,476.9" fill="#efc92a" stroke="#665205" stroke-width="0.7" stroke-linejoin="round" /><path d="M218.1 491.9 L218.8 501 L220.9 518.5" fill="none" stroke="#444" stroke-width="3.2" stroke-linejoin="round" stroke-linecap="round" /><path d="M218.1 491.9 L218.8 501 L220.9 518.5" fill="none" stroke="#fff" stroke-width="1.8" stroke-linejoin="round" stroke-linecap="round" /><ellipse cx="220.2" cy="482.1" rx="2.4" ry="1.8" fill="#fff" stroke="#444" stroke-width="0.8" transform="rotate(-20 220.2 482.1)" /><ellipse cx="223" cy="503.8" rx="3" ry="2.2" fill="#fff" stroke="#444" stroke-width="0.8" transform="rotate(-20 223 503.8)" /><ellipse cx="221.6" cy="519.9" rx="3" ry="2.2" fill="#fff" stroke="#444" stroke-width="0.8" transform="rotate(-20 221.6 519.9)" /><ellipse cx="220.2" cy="524.1" rx="2.6" ry="2" fill="#fff" stroke="#444" stroke-width="0.8" transform="rotate(-20 220.2 524.1)" /><line x1="217.4" y1="526.2" x2="216" y2="530.4" stroke="#444" stroke-width="0.7"/><line x1="219.4" y1="526.2" x2="218.5" y2="530.4" stroke="#444" stroke-width="0.7"/><line x1="221.3" y1="526.2" x2="221" y2="530.4" stroke="#444" stroke-width="0.7"/><line x1="223.3" y1="526.2" x2="223.6" y2="530.4" stroke="#444" stroke-width="0.7"/><use href="#cage"/><use href="#tray"/><ellipse cx="141.1" cy="789.6" rx="21.9" ry="37" fill="#fff" stroke="#444" stroke-width="0.9" transform="rotate(4 141.1 789.6)" /><path d="M116.8 777.3L120.2 776.4L120.6 795.9L117.2 794.8Z" fill="#7cc3ee" stroke="#1f64a3" stroke-width="0.6" stroke-linejoin="round" stroke-linecap="round" /><path d="M165 784L167.1 784.9L167.1 792.5L165.2 792.5Z" fill="#7cc3ee" stroke="#1f64a3" stroke-width="0.6" stroke-linejoin="round" stroke-linecap="round" /><ellipse cx="146.4" cy="789.6" rx="19.6" ry="35.5" fill="#f6d435" stroke="#665205" stroke-width="1.0" transform="rotate(4 146.4 789.6)" /><ellipse cx="154.8" cy="790.6" rx="11" ry="31.6" fill="#e3bb22" stroke="#665205" stroke-width="0.8" transform="rotate(4 154.8 790.6)" /><ellipse cx="150.6" cy="791.2" rx="6.6" ry="27.2" fill="#d9dbe0" stroke="#555" stroke-width="0.7" transform="rotate(4 150.6 791.2)" /><ellipse cx="156.3" cy="791" rx="8.6" ry="29.5" fill="none" stroke="#665205" stroke-width="0.7" transform="rotate(4 156.3 791)" /><path d="M131.6 765 Q137.8 763 143.9 763" fill="none" stroke="#665205" stroke-width="0.8" stroke-linejoin="round" stroke-linecap="round" /><path d="M128.2 775.4 Q135.6 773.5 143 773.5" fill="none" stroke="#665205" stroke-width="0.8" stroke-linejoin="round" stroke-linecap="round" /><path d="M127.4 785.9 Q135 784 142.6 784.9" fill="none" stroke="#665205" stroke-width="0.8" stroke-linejoin="round" stroke-linecap="round" /><path d="M127.8 796.3 Q135.4 794.4 143 796.3" fill="none" stroke="#665205" stroke-width="0.8" stroke-linejoin="round" stroke-linecap="round" /><path d="M129.7 806.8 Q136.8 804.9 143.9 807.3" fill="none" stroke="#665205" stroke-width="0.8" stroke-linejoin="round" stroke-linecap="round" /><path d="M133.5 816.2 Q139.7 814.4 145.8 816.8" fill="none" stroke="#665205" stroke-width="0.8" stroke-linejoin="round" stroke-linecap="round" /><path d="M240.7 810.7L259.4 804.5L261.2 808.1L242.5 814.9Q239.1 813.8 240.7 810.7Z" fill="#eeeeee" stroke="#444" stroke-width="0.8" stroke-linejoin="round" stroke-linecap="round" /><path d="M264.1 773.8Q268.5 764.7 277.6 765.5Q285.4 767.3 285.4 776.4L284.1 798.5Q280.2 807.1 271.1 806.3L263.3 802.4Z" fill="#e6e8ee" stroke="#777" stroke-width="0.8" stroke-linejoin="round" stroke-linecap="round" /><path d="M267.2 775.1Q271.1 768.1 278.9 769.1L280.2 779Q272.4 777.7 267.7 781.6Z" fill="#f6f7fa" stroke="#999" stroke-width="0.5" stroke-linejoin="round" stroke-linecap="round" /><ellipse cx="261.2" cy="805.5" rx="4.6" ry="6" fill="#333" stroke="#111" stroke-width="0.6" transform="rotate(-20 261.2 805.5)" /><ellipse cx="262" cy="805.5" rx="2.2" ry="3.4" fill="#888" stroke="#111" stroke-width="0.4" transform="rotate(-20 262 805.5)" /><path d="M254.7 779.5L259.4 779L265.1 786.3Q275 790.7 284.9 786.3L285.4 792Q275 797.7 264.1 793.3L259.4 795.1L254.7 786.8Z" fill="#a3d3f0" stroke="#1f64a3" stroke-width="0.8" stroke-linejoin="round" stroke-linecap="round" /><polyline points="259.4,779 260.7,794.1" fill="none" stroke="#1f64a3" stroke-width="0.6" stroke-linejoin="round" stroke-linecap="round" /></g>
<g id="step2"><use href="#tray" transform="translate(556.4,-229.8) scale(0.916)"/><use href="#cage" transform="translate(554.6,-202.8) scale(0.916)"/><polygon points="728,493.5 728,512.8 719.5,512.8 737,531.5 754.5,512.8 746,512.8 746,493.5" fill="#e8252b" stroke="none" stroke-width="1" stroke-linejoin="round" /><clipPath id="c21"><rect x="849" y="294" width="101" height="99.7" rx="7"/></clipPath><rect x="849" y="294" width="101" height="99.7" rx="7" fill="#fff" stroke="none" stroke-width="0" /><g clip-path="url(#c21)"><path d="M845 223.4L955 293.9M845 227.8L955 298.3M845 236.5L955 306.9M845 240.9L955 311.3M845 249.6L955 320M845 254L955 324.4M845 262.7L955 333.1M845 267.1L955 337.5M845 275.8L955 346.2M845 280.2L955 350.6M845 288.9L955 359.3M845 293.3L955 363.7M845 302L955 372.4M845 306.4L955 376.8M845 315.1L955 385.5M845 319.5L955 389.9M845 328.2L955 398.6M845 332.6L955 403M845 341.3L955 411.7M845 345.7L955 416.1M845 354.4L955 424.8M845 358.8L955 429.2M845 367.4L955 437.9M845 371.8L955 442.3M845 380.5L955 450.9M845 384.9L955 455.3M845 393.6L955 464M845 398L955 468.4M845 406.7L955 477.1M845 411.1L955 481.5" fill="none" stroke="#3a3a3a" stroke-width="0.6"/><rect x="899.7" y="291" width="3.6" height="106" rx="0" fill="#fff" stroke="#b5b5b5" stroke-width="0.7" /><polygon points="881.5,318.4 898.9,328.8 900.9,326.4 883.5,316" fill="#c9e8f8" stroke="#0f2f4f" stroke-width="0.8" stroke-linejoin="round" /><polygon points="881.5,318.4 898.9,328.8 898.9,336.7 881.5,326.3" fill="#9dd3f0" stroke="#0f2f4f" stroke-width="0.9" stroke-linejoin="round" /><polygon points="881.5,330.9 898.9,341.4 900.9,338.9 883.5,328.5" fill="#c9e8f8" stroke="#0f2f4f" stroke-width="0.8" stroke-linejoin="round" /><polygon points="881.5,330.9 898.9,341.4 898.9,347.1 881.5,336.6" fill="#9dd3f0" stroke="#0f2f4f" stroke-width="0.9" stroke-linejoin="round" /><polygon points="881.5,341.7 898.9,352.1 900.9,349.7 883.5,339.3" fill="#c9e8f8" stroke="#0f2f4f" stroke-width="0.8" stroke-linejoin="round" /><polygon points="881.5,341.7 898.9,352.1 898.9,357.6 881.5,347.2" fill="#9dd3f0" stroke="#0f2f4f" stroke-width="0.9" stroke-linejoin="round" /><polygon points="902.6,328 920.9,338.9 922.9,336.5 904.6,325.5" fill="#c9e8f8" stroke="#0f2f4f" stroke-width="0.8" stroke-linejoin="round" /><polygon points="902.6,328 920.9,338.9 920.9,348.3 902.6,337.3" fill="#9dd3f0" stroke="#0f2f4f" stroke-width="0.9" stroke-linejoin="round" /><polygon points="902.6,341.7 920.9,352.7 922.9,350.2 904.6,339.3" fill="#c9e8f8" stroke="#0f2f4f" stroke-width="0.8" stroke-linejoin="round" /><polygon points="902.6,341.7 920.9,352.7 920.9,359.5 902.6,348.5" fill="#9dd3f0" stroke="#0f2f4f" stroke-width="0.9" stroke-linejoin="round" /><polygon points="902.6,353.8 920.9,364.8 922.9,362.3 904.6,351.4" fill="#c9e8f8" stroke="#0f2f4f" stroke-width="0.8" stroke-linejoin="round" /><polygon points="902.6,353.8 920.9,364.8 920.9,370.8 902.6,359.9" fill="#9dd3f0" stroke="#0f2f4f" stroke-width="0.9" stroke-linejoin="round" /><path d="M920.9 339 L922.9 337.1 L927.7 340.1 L927.7 348.3 L920.9 348.3 Z" fill="#c9e8f8" stroke="#0f2f4f" stroke-width="0.8" stroke-linejoin="round" stroke-linecap="round" /><path d="M920.9 353.3 L926.4 352.2 L927.7 356 L927.3 364.8 L920.9 367.6 Z" fill="#c9e8f8" stroke="#0f2f4f" stroke-width="0.8" stroke-linejoin="round" stroke-linecap="round" /><polygon points="918.6,308.4 913.2,315.8 910.4,313.8 911,323.6 920.5,321.1 917.7,319.1 923.2,311.6" fill="#e8252b" stroke="none" stroke-width="1" stroke-linejoin="round" /></g><rect x="847.5" y="292.5" width="104" height="102.7" rx="8.5" fill="none" stroke="#045526" stroke-width="3" /><ellipse cx="879.7" cy="292.4" rx="14.7" ry="14.7" fill="#045526" stroke="none" stroke-width="1" /><text x="879.7" y="297.8" text-anchor="middle" font-family="Liberation Sans, sans-serif" font-weight="bold" font-size="15.5" fill="#fff" letter-spacing="0.3">2.1</text><clipPath id="c22"><rect x="531.6" y="348.5" width="101" height="101.1" rx="8.4"/></clipPath><rect x="531.6" y="348.5" width="101" height="101.1" rx="8.4" fill="#fff" stroke="none" stroke-width="0" /><g clip-path="url(#c22)"><path d="M531.7 350.6L566.2 352.2M531.7 354.2L566.2 355.8" fill="none" stroke="#666" stroke-width="0.8"/><path d="M531.7 366.2L566.2 368.5M531.7 369.8L566.2 372.1" fill="none" stroke="#666" stroke-width="0.8"/><path d="M531.7 383.8L566.2 386.4M531.7 387.4L566.2 390" fill="none" stroke="#666" stroke-width="0.8"/><path d="M531.7 403.3L567.5 406.8M531.7 407.3L567.5 410.8" fill="none" stroke="#888" stroke-width="0.7"/><path d="M598 405.2L633.1 408.5M598 411.2L633.1 414.5" fill="none" stroke="#888" stroke-width="0.7"/><path d="M531.7 424.1L633.1 431.9M531.7 428.3L633.1 436.1" fill="none" stroke="#999" stroke-width="0.7"/><path d="M566.4 348L567.1 431.2M570.1 348L570.4 431.2" fill="none" stroke="#999" stroke-width="0.8"/><path d="M570.1 348 L571 397.4 Q571.4 402.6 575.9 403.6 L633.1 405.9" fill="none" stroke="#333" stroke-width="0.9" stroke-linejoin="round" stroke-linecap="round" /><path d="M572.7 348 L573.3 377.9 Q575.9 396.1 592.8 399.4 L633.1 403.3" fill="none" stroke="#444" stroke-width="0.8" stroke-linejoin="round" stroke-linecap="round" /><path d="M608.4 348 Q614.9 370.1 633.1 377.3" fill="none" stroke="#444" stroke-width="0.8" stroke-linejoin="round" stroke-linecap="round" /><path d="M618.8 348 Q622.7 361 633.1 366.9" fill="none" stroke="#444" stroke-width="0.8" stroke-linejoin="round" stroke-linecap="round" /><path d="M568.8 403.6 L596.1 405.9 A3 5.5 0 0 1 596.1 415.9 L568.8 412.7 A3 5.5 0 0 1 568.8 403.6 Z" fill="#fff" stroke="#222" stroke-width="0.9" stroke-linejoin="round" stroke-linecap="round" /><ellipse cx="596.1" cy="410.9" rx="2.6" ry="5.2" fill="#fff" stroke="#222" stroke-width="0.8" transform="rotate(-4 596.1 410.9)" /><path d="M598 407.8 L598.7 404.6 L633.1 406.2" fill="none" stroke="#222" stroke-width="0.9" stroke-linejoin="round" stroke-linecap="round" /></g><rect x="530" y="346.9" width="104.1" height="104.2" rx="9.9" fill="none" stroke="#045526" stroke-width="3.1" /><ellipse cx="552.5" cy="448" rx="14.4" ry="14.4" fill="#045526" stroke="none" stroke-width="1" /><text x="552.5" y="453.4" text-anchor="middle" font-family="Liberation Sans, sans-serif" font-weight="bold" font-size="15.5" fill="#fff" letter-spacing="0.3">2.2</text></g>
<g id="step1"><path d="M110.8 984.4L110.8 1160.8M113.2 984.7L113.2 1161.1M169.6 991.3L169.6 1167.7M172 991.6L172 1168M261 1001.9L261 1178.3M263.4 1002.2L263.4 1178.6" fill="none" stroke="#5e5e5e" stroke-width="0.9"/><path d="M110.8 984.4L326 1009.5M110.8 986.8L326 1011.9M110.8 993.6L326 1018.7M110.8 996L326 1021.1M110.8 1002.7L326 1027.8M110.8 1005.1L326 1030.2M110.8 1011.9L326 1037M110.8 1014.3L326 1039.4M110.8 1021L326 1046.1M110.8 1023.4L326 1048.5M110.8 1030.2L326 1055.3M110.8 1032.6L326 1057.7M110.8 1039.3L326 1064.5M110.8 1041.7L326 1066.9M110.8 1048.5L326 1073.6M110.8 1050.9L326 1076M110.8 1057.7L326 1082.8M110.8 1060.1L326 1085.2M110.8 1066.8L326 1091.9M110.8 1069.2L326 1094.3M110.8 1076L326 1101.1M110.8 1078.4L326 1103.5M110.8 1085.1L326 1110.3M110.8 1087.5L326 1112.7M110.8 1094.3L326 1119.4M110.8 1096.7L326 1121.8M110.8 1103.5L326 1128.6M110.8 1105.9L326 1131M110.8 1112.6L326 1137.7M110.8 1115L326 1140.1M110.8 1121.8L326 1146.9M110.8 1124.2L326 1149.3M110.8 1130.9L326 1156M110.8 1133.3L326 1158.4M110.8 1140.1L326 1165.2M110.8 1142.5L326 1167.6M110.8 1149.2L326 1174.4M110.8 1151.6L326 1176.8M110.8 1158.4L326 1183.5M110.8 1160.8L326 1185.9" fill="none" stroke="#5e5e5e" stroke-width="0.9"/><polygon points="225.2,1046.1 326.4,1013.9 325.6,1011.7 224.4,1043.9" fill="#fff" stroke="none" stroke-width="0" stroke-linejoin="round" /><path d="M225.2 1046.1L326.4 1013.9M224.4 1043.9L325.6 1011.7" fill="none" stroke="#5e5e5e" stroke-width="0.9"/><polygon points="225.2,1054.8 326.4,1022.3 325.6,1020 224.4,1052.5" fill="#fff" stroke="none" stroke-width="0" stroke-linejoin="round" /><path d="M225.2 1054.8L326.4 1022.3M224.4 1052.5L325.6 1020" fill="none" stroke="#5e5e5e" stroke-width="0.9"/><polygon points="225.2,1063.5 326.4,1030.6 325.6,1028.3 224.4,1061.2" fill="#fff" stroke="none" stroke-width="0" stroke-linejoin="round" /><path d="M225.2 1063.5L326.4 1030.6M224.4 1061.2L325.6 1028.3" fill="none" stroke="#5e5e5e" stroke-width="0.9"/><polygon points="225.2,1072.2 326.4,1038.9 325.6,1036.6 224.4,1069.9" fill="#fff" stroke="none" stroke-width="0" stroke-linejoin="round" /><path d="M225.2 1072.2L326.4 1038.9M224.4 1069.9L325.6 1036.6" fill="none" stroke="#5e5e5e" stroke-width="0.9"/><polygon points="225.2,1080.9 326.4,1047.2 325.6,1044.9 224.4,1078.6" fill="#fff" stroke="none" stroke-width="0" stroke-linejoin="round" /><path d="M225.2 1080.9L326.4 1047.2M224.4 1078.6L325.6 1044.9" fill="none" stroke="#5e5e5e" stroke-width="0.9"/><polygon points="225.2,1089.6 326.4,1055.5 325.6,1053.2 224.4,1087.3" fill="#fff" stroke="none" stroke-width="0" stroke-linejoin="round" /><path d="M225.2 1089.6L326.4 1055.5M224.4 1087.3L325.6 1053.2" fill="none" stroke="#5e5e5e" stroke-width="0.9"/><polygon points="225.2,1098.3 326.4,1063.8 325.6,1061.5 224.4,1096" fill="#fff" stroke="none" stroke-width="0" stroke-linejoin="round" /><path d="M225.2 1098.3L326.4 1063.8M224.4 1096L325.6 1061.5" fill="none" stroke="#5e5e5e" stroke-width="0.9"/><polygon points="225.2,1107 326.4,1072.1 325.6,1069.8 224.4,1104.7" fill="#fff" stroke="none" stroke-width="0" stroke-linejoin="round" /><path d="M225.2 1107L326.4 1072.1M224.4 1104.7L325.6 1069.8" fill="none" stroke="#5e5e5e" stroke-width="0.9"/><polygon points="225.2,1115.7 326.4,1080.4 325.6,1078.1 224.4,1113.4" fill="#fff" stroke="none" stroke-width="0" stroke-linejoin="round" /><path d="M225.2 1115.7L326.4 1080.4M224.4 1113.4L325.6 1078.1" fill="none" stroke="#5e5e5e" stroke-width="0.9"/><polygon points="225.2,1124.3 326.4,1088.7 325.6,1086.5 224.4,1122.1" fill="#fff" stroke="none" stroke-width="0" stroke-linejoin="round" /><path d="M225.2 1124.3L326.4 1088.7M224.4 1122.1L325.6 1086.5" fill="none" stroke="#5e5e5e" stroke-width="0.9"/><polygon points="225.2,1133 326.4,1097 325.6,1094.8 224.4,1130.8" fill="#fff" stroke="none" stroke-width="0" stroke-linejoin="round" /><path d="M225.2 1133L326.4 1097M224.4 1130.8L325.6 1094.8" fill="none" stroke="#5e5e5e" stroke-width="0.9"/><polygon points="225.2,1141.7 326.4,1105.3 325.6,1103.1 224.4,1139.5" fill="#fff" stroke="none" stroke-width="0" stroke-linejoin="round" /><path d="M225.2 1141.7L326.4 1105.3M224.4 1139.5L325.6 1103.1" fill="none" stroke="#5e5e5e" stroke-width="0.9"/><polygon points="225.2,1150.4 326.4,1113.6 325.6,1111.4 224.4,1148.2" fill="#fff" stroke="none" stroke-width="0" stroke-linejoin="round" /><path d="M225.2 1150.4L326.4 1113.6M224.4 1148.2L325.6 1111.4" fill="none" stroke="#5e5e5e" stroke-width="0.9"/><polygon points="225.2,1159.1 326.4,1122 325.6,1119.7 224.4,1156.8" fill="#fff" stroke="none" stroke-width="0" stroke-linejoin="round" /><path d="M225.2 1159.1L326.4 1122M224.4 1156.8L325.6 1119.7" fill="none" stroke="#5e5e5e" stroke-width="0.9"/><polygon points="225.2,1167.8 326.4,1130.3 325.6,1128 224.4,1165.5" fill="#fff" stroke="none" stroke-width="0" stroke-linejoin="round" /><path d="M225.2 1167.8L326.4 1130.3M224.4 1165.5L325.6 1128" fill="none" stroke="#5e5e5e" stroke-width="0.9"/><polygon points="225.2,1176.5 326.4,1138.6 325.6,1136.3 224.4,1174.2" fill="#fff" stroke="none" stroke-width="0" stroke-linejoin="round" /><path d="M225.2 1176.5L326.4 1138.6M224.4 1174.2L325.6 1136.3" fill="none" stroke="#5e5e5e" stroke-width="0.9"/><polygon points="225.2,1185.2 326.4,1146.9 325.6,1144.6 224.4,1182.9" fill="#fff" stroke="none" stroke-width="0" stroke-linejoin="round" /><path d="M225.2 1185.2L326.4 1146.9M224.4 1182.9L325.6 1144.6" fill="none" stroke="#5e5e5e" stroke-width="0.9"/><polygon points="225.2,1193.9 326.4,1155.2 325.6,1152.9 224.4,1191.6" fill="#fff" stroke="none" stroke-width="0" stroke-linejoin="round" /><path d="M225.2 1193.9L326.4 1155.2M224.4 1191.6L325.6 1152.9" fill="none" stroke="#5e5e5e" stroke-width="0.9"/><polygon points="225.2,1202.5 326.4,1163.5 325.6,1161.3 224.4,1200.3" fill="#fff" stroke="none" stroke-width="0" stroke-linejoin="round" /><path d="M225.2 1202.5L326.4 1163.5M224.4 1200.3L325.6 1161.3" fill="none" stroke="#5e5e5e" stroke-width="0.9"/><polygon points="225.2,1211.2 326.4,1171.8 325.6,1169.6 224.4,1209" fill="#fff" stroke="none" stroke-width="0" stroke-linejoin="round" /><path d="M225.2 1211.2L326.4 1171.8M224.4 1209L325.6 1169.6" fill="none" stroke="#5e5e5e" stroke-width="0.9"/><polygon points="225.2,1219.9 326.4,1180.1 325.6,1177.9 224.4,1217.7" fill="#fff" stroke="none" stroke-width="0" stroke-linejoin="round" /><path d="M225.2 1219.9L326.4 1180.1M224.4 1217.7L325.6 1177.9" fill="none" stroke="#5e5e5e" stroke-width="0.9"/><polygon points="224.7,1043 224.7,1220.8 227.3,1220.8 227.3,1043" fill="#fff" stroke="none" stroke-width="0" stroke-linejoin="round" /><path d="M224.7 1043L224.7 1220.8M227.3 1043L227.3 1220.8" fill="none" stroke="#555" stroke-width="0.9"/><polygon points="276.9,1026.4 276.9,1200.3 279.5,1200.3 279.5,1026.4" fill="#fff" stroke="none" stroke-width="0" stroke-linejoin="round" /><path d="M276.9 1026.4L276.9 1200.3M279.5 1026.4L279.5 1200.3" fill="none" stroke="#555" stroke-width="0.9"/><polygon points="323.5,1011.6 323.5,1181.9 326.1,1181.9 326.1,1011.6" fill="#fff" stroke="none" stroke-width="0" stroke-linejoin="round" /><path d="M323.5 1011.6L323.5 1181.9M326.1 1011.6L326.1 1181.9" fill="none" stroke="#555" stroke-width="0.9"/><path d="M300.9 1002L322 1005L311.5 1009.8L311.5 1020L306.8 1021.8L303.5 1018.5L300.9 1014Z" fill="#f6d435" stroke="#665205" stroke-width="0.7" stroke-linejoin="round" stroke-linecap="round" /><polygon points="301.1,1017.1 315.4,1012.7 314.6,1010.5 300.4,1014.9" fill="#fff" stroke="none" stroke-width="0" stroke-linejoin="round" /><path d="M301.1 1017.1L315.4 1012.7M300.4 1014.9L314.6 1010.5" fill="none" stroke="#555" stroke-width="0.8"/><polygon points="306.3,1024.1 316.3,1021.1 315.7,1018.9 305.7,1021.9" fill="#fff" stroke="none" stroke-width="0" stroke-linejoin="round" /><path d="M306.3 1024.1L316.3 1021.1M305.7 1021.9L315.7 1018.9" fill="none" stroke="#555" stroke-width="0.8"/><path d="M312.2 1022L316 1020.5L318 1027L315 1026Z" fill="#e3bb22" stroke="#665205" stroke-width="0.6" stroke-linejoin="round" stroke-linecap="round" /><path d="M315.5 1011L329 1005.5L329.9 1006.5L329.9 1027.2Q326 1030 321 1028.8Q317.2 1027 316.5 1022Z" fill="#f6d435" stroke="#665205" stroke-width="0.8" stroke-linejoin="round" stroke-linecap="round" /><path d="M300.9 1002Q301.5 1000.6 305 1000.8L327 1003.2Q329.5 1004.2 329.9 1006.5L329 1005.5L315.5 1011L311.5 1009.8L322 1005Z" fill="#f3cf2f" stroke="#665205" stroke-width="0.8" stroke-linejoin="round" stroke-linecap="round" /><path d="M305.6 1163.3L323.8 1165.9L314.7 1170L314.7 1178.8L310.7 1180.3L307.9 1177.5L305.6 1173.6Z" fill="#f6d435" stroke="#665205" stroke-width="0.7" stroke-linejoin="round" stroke-linecap="round" /><polygon points="305.8,1176.3 318.1,1172.5 317.5,1170.6 305.2,1174.3" fill="#fff" stroke="none" stroke-width="0" stroke-linejoin="round" /><path d="M305.8 1176.3L318.1 1172.5M305.2 1174.3L317.5 1170.6" fill="none" stroke="#555" stroke-width="0.8"/><polygon points="310.3,1182.3 318.9,1179.8 318.3,1177.8 309.7,1180.4" fill="#fff" stroke="none" stroke-width="0" stroke-linejoin="round" /><path d="M310.3 1182.3L318.9 1179.8M309.7 1180.4L318.3 1177.8" fill="none" stroke="#555" stroke-width="0.8"/><path d="M315.4 1180.5L318.6 1179.2L320.3 1184.8L317.8 1183.9Z" fill="#e3bb22" stroke="#665205" stroke-width="0.6" stroke-linejoin="round" stroke-linecap="round" /><path d="M318.2 1171L329.8 1166.3L330.5 1167.2L330.5 1185Q327.2 1187.4 322.9 1186.3Q319.7 1184.8 319 1180.5Z" fill="#f6d435" stroke="#665205" stroke-width="0.8" stroke-linejoin="round" stroke-linecap="round" /><path d="M305.6 1163.3Q306.1 1162.1 309.2 1162.2L328.1 1164.4Q330.2 1165.2 330.5 1167.2L329.8 1166.3L318.2 1171L314.7 1170L323.8 1165.9Z" fill="#f3cf2f" stroke="#665205" stroke-width="0.8" stroke-linejoin="round" stroke-linecap="round" /><clipPath id="c11"><rect x="359.6" y="987.4" width="105.9" height="106.6" rx="8.6"/></clipPath><rect x="359.6" y="987.4" width="105.9" height="106.6" rx="8.6" fill="#fff" stroke="none" stroke-width="0" /><g clip-path="url(#c11)"><polygon points="357.3,1024.4 442.7,1032.8 443.3,1027.6 357.9,1019.2" fill="#fff" stroke="none" stroke-width="0" stroke-linejoin="round" /><path d="M357.3 1024.4L442.7 1032.8M357.9 1019.2L443.3 1027.6" fill="none" stroke="#222" stroke-width="0.8"/><polygon points="357.3,1039.8 442.7,1048.2 443.3,1043 357.9,1034.6" fill="#fff" stroke="none" stroke-width="0" stroke-linejoin="round" /><path d="M357.3 1039.8L442.7 1048.2M357.9 1034.6L443.3 1043" fill="none" stroke="#222" stroke-width="0.8"/><polygon points="357.3,1055.2 442.7,1063.6 443.3,1058.4 357.9,1050" fill="#fff" stroke="none" stroke-width="0" stroke-linejoin="round" /><path d="M357.3 1055.2L442.7 1063.6M357.9 1050L443.3 1058.4" fill="none" stroke="#222" stroke-width="0.8"/><polygon points="357.3,1070.6 442.7,1079 443.3,1073.8 357.9,1065.4" fill="#fff" stroke="none" stroke-width="0" stroke-linejoin="round" /><path d="M357.3 1070.6L442.7 1079M357.9 1065.4L443.3 1073.8" fill="none" stroke="#222" stroke-width="0.8"/><polygon points="357.3,1086 442.7,1094.4 443.3,1089.2 357.9,1080.8" fill="#fff" stroke="none" stroke-width="0" stroke-linejoin="round" /><path d="M357.3 1086L442.7 1094.4M357.9 1080.8L443.3 1089.2" fill="none" stroke="#222" stroke-width="0.8"/><polygon points="433.5,1068 433.5,1096 438.5,1096 438.5,1068" fill="#fff" stroke="none" stroke-width="0" stroke-linejoin="round" /><path d="M433.5 1068L433.5 1096M438.5 1068L438.5 1096" fill="none" stroke="#222" stroke-width="0.8"/><polygon points="440,1061 440,1096 446,1096 446,1061" fill="#fff" stroke="none" stroke-width="0" stroke-linejoin="round" /><path d="M440 1061L440 1096M446 1061L446 1096" fill="none" stroke="#222" stroke-width="0.8"/><path d="M397.5 1023.2 Q398.9 1019.7 405.2 1019.7 L431.8 1023.9 L433.2 1027.4 L416.4 1035.8 L421.3 1056.8 Q401 1056.8 397.5 1037.2 Z" fill="#f2cd2e" stroke="#665205" stroke-width="0.8" stroke-linejoin="round" stroke-linecap="round" /><polygon points="358.5,1069 435.5,1039.6 433.7,1034.8 356.7,1064.2" fill="#fff" stroke="none" stroke-width="0" stroke-linejoin="round" /><path d="M358.5 1069L435.5 1039.6M356.7 1064.2L433.7 1034.8" fill="none" stroke="#222" stroke-width="0.8"/><polygon points="358.5,1083 435.5,1054.3 433.7,1049.5 356.7,1078.2" fill="#fff" stroke="none" stroke-width="0" stroke-linejoin="round" /><path d="M358.5 1083L435.5 1054.3M356.7 1078.2L433.7 1049.5" fill="none" stroke="#222" stroke-width="0.8"/><polygon points="358.5,1097 435.5,1069 433.7,1064.2 356.7,1092.2" fill="#fff" stroke="none" stroke-width="0" stroke-linejoin="round" /><path d="M358.5 1097L435.5 1069M356.7 1092.2L433.7 1064.2" fill="none" stroke="#222" stroke-width="0.8"/><polygon points="358.5,1111 435.5,1083.7 433.7,1078.8 356.7,1106.1" fill="#fff" stroke="none" stroke-width="0" stroke-linejoin="round" /><path d="M358.5 1111L435.5 1083.7M356.7 1106.1L433.7 1078.8" fill="none" stroke="#222" stroke-width="0.8"/><polygon points="358.4,1125.1 435.4,1098.5 433.7,1093.5 356.8,1120.1" fill="#fff" stroke="none" stroke-width="0" stroke-linejoin="round" /><path d="M358.4 1125.1L435.4 1098.5M356.8 1120.1L433.7 1093.5" fill="none" stroke="#222" stroke-width="0.8"/><path d="M416.4 1035.8 L433.2 1027.4 L431.8 1023.9 Q443 1023.9 446.5 1028.8 L446.5 1066.6 L437.4 1068.7 Q426.2 1066.6 422.7 1056.8 Q421.3 1045.6 416.4 1035.8 Z" fill="#f6d435" stroke="#665205" stroke-width="0.8" stroke-linejoin="round" stroke-linecap="round" /><path d="M421.3 1059.6 Q427.6 1062.4 429 1066.6" fill="none" stroke="#665205" stroke-width="0.7" stroke-linejoin="round" stroke-linecap="round" /><text x="413.3" y="1009.3" text-anchor="middle" font-family="Liberation Sans, sans-serif" font-weight="bold" font-size="13" letter-spacing="0.95" stroke="#e8252b" stroke-width="0.3" fill="#e8252b">До щелчка!</text></g><rect x="357.9" y="985.7" width="109.3" height="110" rx="10.3" fill="none" stroke="#045526" stroke-width="3.4" /><clipPath id="c12"><rect x="359.6" y="1111.7" width="105.9" height="106.6" rx="8.6"/></clipPath><rect x="359.6" y="1111.7" width="105.9" height="106.6" rx="8.6" fill="#fff" stroke="none" stroke-width="0" /><g clip-path="url(#c12)"><path d="M358.3 1164.6L466.8 1175.8M358.3 1172L466.8 1183.2M358.3 1188.1L466.8 1199.6M358.3 1195.5L466.8 1206.9M358.3 1213.3L466.8 1224.5" fill="none" stroke="#222" stroke-width="0.8"/><path d="M407.6 1221 L407.6 1169.9 A3.9 2.6 0 0 1 415.4 1169.9 L415.4 1221 Z" fill="#fff" stroke="#222" stroke-width="0.8" stroke-linejoin="round" stroke-linecap="round" /><ellipse cx="411.5" cy="1169.9" rx="3.9" ry="2.4" fill="#fff" stroke="#222" stroke-width="0.8" /><polygon points="433.1,1119.2 424.4,1132.9 420.8,1130.6 423,1145 436.9,1140.8 433.3,1138.5 441.9,1124.8" fill="#e8252b" stroke="none" stroke-width="1" stroke-linejoin="round" /></g><rect x="357.9" y="1110" width="109.3" height="110" rx="10.3" fill="none" stroke="#045526" stroke-width="3.4" /></g>
<g id="step3"><g id="s3plat"><path d="M735.8 922.3 L733.6 930 L732.3 938.8" fill="none" stroke="#2a2a2a" stroke-width="6.0" stroke-linejoin="round" stroke-linecap="round" /><path d="M735.8 922.3 L733.6 930 L732.3 938.8" fill="none" stroke="#fff" stroke-width="3.6" stroke-linejoin="round" stroke-linecap="round" /><path d="M736.5 921.2 Q743.1 927.8 745.3 952 Q746.8 969.6 745.3 980.6" fill="none" stroke="#2a2a2a" stroke-width="6.8" stroke-linejoin="round" stroke-linecap="round" /><path d="M736.5 921.2 Q743.1 927.8 745.3 952 Q746.8 969.6 745.3 980.6" fill="none" stroke="#fff" stroke-width="4.2" stroke-linejoin="round" stroke-linecap="round" /><ellipse cx="730.6" cy="936.6" rx="5.5" ry="4.1" fill="#fff" stroke="#2a2a2a" stroke-width="1.1" transform="rotate(20 730.6 936.6)" /><ellipse cx="735.8" cy="940.6" rx="5.5" ry="4.1" fill="#fff" stroke="#2a2a2a" stroke-width="1.1" transform="rotate(20 735.8 940.6)" /><ellipse cx="732.3" cy="945" rx="5" ry="3.8" fill="#fff" stroke="#2a2a2a" stroke-width="1.1" transform="rotate(20 732.3 945)" /><line x1="727.7" y1="946.5" x2="725.5" y2="951.6" stroke="#444" stroke-width="0.8"/><line x1="729.5" y1="946.5" x2="727.7" y2="951.6" stroke="#444" stroke-width="0.8"/><line x1="731.2" y1="946.5" x2="729.9" y2="951.6" stroke="#444" stroke-width="0.8"/><line x1="733" y1="946.5" x2="732.1" y2="951.6" stroke="#444" stroke-width="0.8"/><line x1="734.7" y1="946.5" x2="734.3" y2="951.6" stroke="#444" stroke-width="0.8"/><ellipse cx="741.6" cy="977.3" rx="5.5" ry="4.1" fill="#fff" stroke="#2a2a2a" stroke-width="1.1" transform="rotate(-20 741.6 977.3)" /><ellipse cx="748.6" cy="981.7" rx="6" ry="4.5" fill="#fff" stroke="#2a2a2a" stroke-width="1.1" transform="rotate(-20 748.6 981.7)" /><ellipse cx="744.6" cy="986.8" rx="5.5" ry="4.1" fill="#fff" stroke="#2a2a2a" stroke-width="1.1" transform="rotate(-20 744.6 986.8)" /><ellipse cx="750.8" cy="987.6" rx="4.5" ry="3.4" fill="#fff" stroke="#2a2a2a" stroke-width="1.1" transform="rotate(-20 750.8 987.6)" /><line x1="750.8" y1="983.9" x2="755" y2="983.2" stroke="#444" stroke-width="0.8"/><line x1="752.1" y1="984.6" x2="756.5" y2="984.9" stroke="#444" stroke-width="0.8"/><line x1="753.4" y1="985.2" x2="758.1" y2="986.7" stroke="#444" stroke-width="0.8"/><line x1="754.8" y1="985.9" x2="759.6" y2="988.4" stroke="#444" stroke-width="0.8"/><line x1="756.1" y1="986.5" x2="761.2" y2="990.2" stroke="#444" stroke-width="0.8"/><line x1="757.4" y1="987.2" x2="762.7" y2="992" stroke="#444" stroke-width="0.8"/><line x1="745.3" y1="989.4" x2="743.1" y2="996" stroke="#444" stroke-width="0.8"/><line x1="747.1" y1="989.4" x2="745.3" y2="996" stroke="#444" stroke-width="0.8"/><line x1="748.8" y1="989.4" x2="747.5" y2="996" stroke="#444" stroke-width="0.8"/><g transform="translate(0,2.2)"><path d="M621 916.8L652.9 906.2L654 900.3L658.8 897L660.2 890Q676 880.5 698 882.7L715.6 884.9L742 898.8L768.4 901L806.9 906.2L811.3 912L799.6 919.4L797 923.4L746.4 929.6L722.2 923.4Q717.8 920.1 718.2 915.7L700.2 916.4Q691.4 923.4 682.6 924.5L623.6 922.5Z" fill="#e3bb22" stroke="#665205" stroke-width="1.0" stroke-linejoin="round" stroke-linecap="round" /></g><path d="M621 916.8L652.9 906.2L654 900.3L658.8 897L660.2 890Q676 880.5 698 882.7L715.6 884.9L742 898.8L768.4 901L806.9 906.2L811.3 912L799.6 919.4L797 923.4L746.4 929.6L722.2 923.4Q717.8 920.1 718.2 915.7L700.2 916.4Q691.4 923.4 682.6 924.5L623.6 922.5Z" fill="#f6d435" stroke="#665205" stroke-width="1.0" stroke-linejoin="round" stroke-linecap="round" /><path d="M652.9 906.2L654 900.3L658.8 897L660.2 890Q676 880.5 698 882.7L715.6 884.9L742 898.8L720 910.2L706.8 909.8L689.2 902.5L687 908Z" fill="#f2cb2a" stroke="#665205" stroke-width="0.8" stroke-linejoin="round" stroke-linecap="round" /><polyline points="658.8,897 691.4,901 693.6,895.9 661.7,891.5" fill="none" stroke="#665205" stroke-width="0.7" stroke-linejoin="round" stroke-linecap="round" /><polyline points="654,900.3 688.1,905.8" fill="none" stroke="#665205" stroke-width="0.7" stroke-linejoin="round" stroke-linecap="round" /><ellipse cx="682.6" cy="885.6" rx="6" ry="3.2" fill="#f6d435" stroke="#665205" stroke-width="0.7" transform="rotate(-5 682.6 885.6)" /><ellipse cx="673.8" cy="889.3" rx="3.6" ry="2" fill="#f6d435" stroke="#665205" stroke-width="0.7" transform="rotate(-5 673.8 889.3)" /><ellipse cx="693.6" cy="886" rx="4.5" ry="2.2" fill="#f6d435" stroke="#665205" stroke-width="0.7" transform="rotate(-5 693.6 886)" /><ellipse cx="702.4" cy="886.4" rx="3.8" ry="2" fill="#f6d435" stroke="#665205" stroke-width="0.7" transform="rotate(-5 702.4 886.4)" /><ellipse cx="687" cy="890.8" rx="4.2" ry="2" fill="#f6d435" stroke="#665205" stroke-width="0.7" transform="rotate(-5 687 890.8)" /><ellipse cx="698" cy="890" rx="3.6" ry="1.8" fill="#f6d435" stroke="#665205" stroke-width="0.7" transform="rotate(-5 698 890)" /><ellipse cx="704.6" cy="897" rx="4" ry="2.6" fill="#fff" stroke="#665205" stroke-width="0.7" transform="rotate(-25 704.6 897)" /><ellipse cx="713.4" cy="893.7" rx="3.6" ry="2.4" fill="#fff" stroke="#665205" stroke-width="0.7" transform="rotate(-25 713.4 893.7)" /><ellipse cx="721.1" cy="891.5" rx="3.4" ry="2.2" fill="#fff" stroke="#665205" stroke-width="0.7" transform="rotate(-25 721.1 891.5)" /><ellipse cx="716.7" cy="903.2" rx="4" ry="2.6" fill="#fff" stroke="#665205" stroke-width="0.7" transform="rotate(-25 716.7 903.2)" /><ellipse cx="725.5" cy="899.6" rx="3.6" ry="2.4" fill="#fff" stroke="#665205" stroke-width="0.7" transform="rotate(-25 725.5 899.6)" /><ellipse cx="732.1" cy="896.6" rx="3" ry="2" fill="#fff" stroke="#665205" stroke-width="0.7" transform="rotate(-25 732.1 896.6)" /><ellipse cx="709" cy="906.2" rx="3" ry="1.8" fill="#fff" stroke="#665205" stroke-width="0.7" transform="rotate(-25 709 906.2)" /><rect x="663.9" y="897.4" width="3.6" height="2" rx="0" fill="#e3bb22" stroke="#665205" stroke-width="0.5" /><rect x="670.5" y="898.3" width="3.6" height="2" rx="0" fill="#e3bb22" stroke="#665205" stroke-width="0.5" /><rect x="677.1" y="899.2" width="3.6" height="2" rx="0" fill="#e3bb22" stroke="#665205" stroke-width="0.5" /><rect x="683.7" y="900.1" width="3.6" height="2" rx="0" fill="#e3bb22" stroke="#665205" stroke-width="0.5" /><ellipse cx="657.3" cy="915" rx="14.5" ry="4.6" fill="#fff" stroke="#665205" stroke-width="0.9" transform="rotate(-2 657.3 915)" /><path d="M632 918.6L643 914.6M672.7 913.5Q682.6 916.8 693.6 912.4" fill="none" stroke="#665205" stroke-width="0.6" stroke-linejoin="round" stroke-linecap="round" /><path d="M720 910.6L742 899.2L806.2 906.9L794.8 918.6L733.2 921.6Z" fill="#f0c829" stroke="none" stroke-width="0" stroke-linejoin="round" stroke-linecap="round" /><path d="M754.1 909.1Q755.2 904.7 768.4 904.3L788.2 905.4Q797 906.9 795.9 911.3Q786 920.1 772.8 919Q759.6 916.8 754.1 909.1Z" fill="#f6d435" stroke="#665205" stroke-width="0.8" stroke-linejoin="round" stroke-linecap="round" /><path d="M764 909.1L777.2 906.9L790.4 910.2Q783.8 917.9 775 917.9Q766.2 914.6 764 909.1Z" fill="#d4ab1c" stroke="#665205" stroke-width="0.6" stroke-linejoin="round" stroke-linecap="round" /><ellipse cx="787.1" cy="916.1" rx="3.2" ry="1.2" fill="#fff" stroke="#665205" stroke-width="0.5" transform="rotate(-25 787.1 916.1)" /><ellipse cx="761.8" cy="913.5" rx="2.2" ry="1" fill="#fff" stroke="#665205" stroke-width="0.5" transform="rotate(30 761.8 913.5)" /></g><g id="s3house"><path d="M760.3 862.9L761.8 844.2Q768.4 828.8 783.8 826.2L799.2 826.2Q803.2 826.6 803.6 833.2L804.7 861.8Q786 870.6 760.3 862.9Z" fill="#f6d435" stroke="#665205" stroke-width="0.9" stroke-linejoin="round" stroke-linecap="round" /><ellipse cx="791.5" cy="827.9" rx="9.5" ry="2.6" fill="#e3bb22" stroke="#665205" stroke-width="0.6" transform="rotate(-2 791.5 827.9)" /><path d="M772.8 867.3L773.2 842Q777.2 829.9 783.8 826.6" fill="none" stroke="#665205" stroke-width="0.6" stroke-linejoin="round" stroke-linecap="round" /><path d="M760.7 859.6L760.3 865.1Q764 872.8 790.4 875L803.6 870.2L804.7 859.2Q790.4 865.1 772.8 864Z" fill="#b4def6" stroke="#1f64a3" stroke-width="0.8" stroke-linejoin="round" stroke-linecap="round" /><path d="M762.2 865.1L762.9 846.4Q767.3 838.7 772.4 843.1L772.8 867.3Z" fill="#3f9fdc" stroke="#1f64a3" stroke-width="0.7" stroke-linejoin="round" stroke-linecap="round" /><path d="M762.9 854.8L762.9 846.4Q767.3 838.7 772.4 843.1L772.4 855.2Z" fill="#f2cc2c" stroke="#665205" stroke-width="0.5" stroke-linejoin="round" stroke-linecap="round" /><rect x="777.2" y="840.9" width="2.2" height="2.8" rx="0" fill="#e3bb22" stroke="#665205" stroke-width="0.4" /><rect x="786" y="842" width="2.2" height="2.8" rx="0" fill="#e3bb22" stroke="#665205" stroke-width="0.4" /><rect x="779.4" y="851.9" width="2.2" height="2.8" rx="0" fill="#e3bb22" stroke="#665205" stroke-width="0.4" /><rect x="783.8" y="859.6" width="2.2" height="2.8" rx="0" fill="#e3bb22" stroke="#665205" stroke-width="0.4" /><rect x="792.6" y="835.4" width="2.2" height="2.8" rx="0" fill="#e3bb22" stroke="#665205" stroke-width="0.4" /></g><polygon points="777.3,880.5 777.3,888.2 772.9,888.2 780.6,897 788.3,888.2 783.9,888.2 783.9,880.5" fill="#e8252b" stroke="none" stroke-width="1" stroke-linejoin="round" /><polygon points="661.5,947.6 661.5,940 665.6,940 658.2,931 650.8,940 654.9,940 654.9,947.6" fill="#e8252b" stroke="none" stroke-width="1" stroke-linejoin="round" /><g id="s3tun"><path d="M640.4 963Q638.6 987.2 656.2 1002.6Q667.2 1013.6 684.8 1013.6L698 998.2L689.2 980.6Q678.2 974 676 963Z" fill="#f6d435" stroke="#665205" stroke-width="0.9" stroke-linejoin="round" stroke-linecap="round" /><polyline points="640.8,974 676,967.8" fill="none" stroke="#665205" stroke-width="0.6" stroke-linejoin="round" stroke-linecap="round" /><polyline points="643,983.9 680,975.1" fill="none" stroke="#665205" stroke-width="0.6" stroke-linejoin="round" stroke-linecap="round" /><polyline points="648.5,993.8 683.7,981.7" fill="none" stroke="#665205" stroke-width="0.6" stroke-linejoin="round" stroke-linecap="round" /><polyline points="657.3,1002.6 684.8,989.4" fill="none" stroke="#665205" stroke-width="0.6" stroke-linejoin="round" stroke-linecap="round" /><polyline points="668.3,1010.3 685.9,998.2" fill="none" stroke="#665205" stroke-width="0.6" stroke-linejoin="round" stroke-linecap="round" /><ellipse cx="648.5" cy="971.8" rx="0.9" ry="0.9" fill="#a8860f" stroke="none" stroke-width="1" /><ellipse cx="651.8" cy="980.6" rx="0.9" ry="0.9" fill="#a8860f" stroke="none" stroke-width="1" /><ellipse cx="657.3" cy="989.4" rx="0.9" ry="0.9" fill="#a8860f" stroke="none" stroke-width="1" /><ellipse cx="665" cy="998.2" rx="0.9" ry="0.9" fill="#a8860f" stroke="none" stroke-width="1" /><ellipse cx="672.7" cy="1001.5" rx="0.9" ry="0.9" fill="#a8860f" stroke="none" stroke-width="1" /><ellipse cx="658.4" cy="959" rx="17.6" ry="5.8" fill="#7cc3ee" stroke="#1f64a3" stroke-width="0.8" transform="rotate(-1 658.4 959)" /><path d="M640.8 958.6L640.8 963.4Q658.4 970.7 676 963L676 958.2Q658.4 966.3 640.8 958.6Z" fill="#7cc3ee" stroke="#1f64a3" stroke-width="0.8" stroke-linejoin="round" stroke-linecap="round" /><ellipse cx="658.4" cy="957.3" rx="17.6" ry="5.2" fill="#b4def6" stroke="#1f64a3" stroke-width="0.8" transform="rotate(-1 658.4 957.3)" /><ellipse cx="689.6" cy="998.2" rx="12.6" ry="18.6" fill="#7cc3ee" stroke="#1f64a3" stroke-width="0.9" transform="rotate(10 689.6 998.2)" /><ellipse cx="690.5" cy="998.2" rx="10" ry="16.2" fill="#e3bb22" stroke="#1f64a3" stroke-width="0.8" transform="rotate(10 690.5 998.2)" /><ellipse cx="691.8" cy="998.6" rx="8" ry="14" fill="#d9b01c" stroke="none" stroke-width="0" transform="rotate(10 691.8 998.6)" /></g><clipPath id="c31"><rect x="773.4" y="938.1" width="106.3" height="106.2" rx="8.6"/></clipPath><rect x="773.4" y="938.1" width="106.3" height="106.2" rx="8.6" fill="#fff" stroke="none" stroke-width="0" /><g clip-path="url(#c31)"><path d="M778.8 997.7 Q797 997.7 808.9 992.1 Q815.2 976 833.4 977.4 Q847.4 978.8 846 990" fill="none" stroke="#555" stroke-width="5.2" stroke-linejoin="round" stroke-linecap="round" /><path d="M778.8 997.7 Q797 997.7 808.9 992.1 Q815.2 976 833.4 977.4 Q847.4 978.8 846 990" fill="none" stroke="#fff" stroke-width="3.6" stroke-linejoin="round" stroke-linecap="round" /><path d="M846 990 Q841.8 1001.2 825 999.8 Q811 998.4 811 985.8 Q813.8 977.4 825 980.2" fill="none" stroke="#555" stroke-width="5.2" stroke-linejoin="round" stroke-linecap="round" /><path d="M846 990 Q841.8 1001.2 825 999.8 Q811 998.4 811 985.8 Q813.8 977.4 825 980.2" fill="none" stroke="#fff" stroke-width="3.6" stroke-linejoin="round" stroke-linecap="round" /><path d="M825 980.2 Q839 985.8 851.6 996.3 Q861.4 1002.6 875.4 1001.2" fill="none" stroke="#555" stroke-width="5.2" stroke-linejoin="round" stroke-linecap="round" /><path d="M825 980.2 Q839 985.8 851.6 996.3 Q861.4 1002.6 875.4 1001.2" fill="none" stroke="#fff" stroke-width="3.6" stroke-linejoin="round" stroke-linecap="round" /><path d="M816.6 990 Q827.8 981.6 839 978.8" fill="none" stroke="#555" stroke-width="5.2" stroke-linejoin="round" stroke-linecap="round" /><path d="M816.6 990 Q827.8 981.6 839 978.8" fill="none" stroke="#fff" stroke-width="3.6" stroke-linejoin="round" stroke-linecap="round" /><polygon points="811.5,971.8 802.2,971.8 802.2,969.3 796,974 802.2,978.7 802.2,976.2 811.5,976.2" fill="#e8252b" stroke="none" stroke-width="1" stroke-linejoin="round" /><polygon points="841,1010.5 850.8,1010.5 850.8,1013 857,1008.3 850.8,1003.6 850.8,1006.1 841,1006.1" fill="#e8252b" stroke="none" stroke-width="1" stroke-linejoin="round" /></g><rect x="771.7" y="936.4" width="109.7" height="109.6" rx="10.3" fill="none" stroke="#045526" stroke-width="3.4" /></g></svg>
<!-- LABELS -->
<div class="abs lbl" style="top:341.2px;right:535px">Крыша (1шт.)</div>
<div class="abs ll" style="left:288px;top:356.5px;width:179px"></div>
<div class="abs lbl" style="top:371.2px;right:535px">Домик (2шт.)</div>
<div class="abs ll" style="left:295px;top:385.1px;width:172px"></div>
<div class="abs lbl" style="top:397.2px;right:535px">3-я платформа (1шт.)</div>
<div class="abs ll" style="left:262px;top:409.9px;width:205px"></div>
<div class="abs lbl" style="top:419.0px;right:535px">Прозрачный туннель&nbsp; (3шт.)</div>
<div class="abs ll" style="left:230px;top:432.1px;width:237px"></div>
<div class="abs lbl" style="top:433.2px;right:551px">2-я платформа(1шт.)</div>
<div class="abs ll" style="left:197px;top:445.9px;width:270px"></div>
<div class="abs lbl" style="top:477.6px;right:535px">Нижняя платформа (1шт.)</div>
<div class="abs ll" style="left:286px;top:490.7px;width:181px"></div>
<div class="abs lbl" style="top:495.6px;right:535px">Пластиковый зажим (12шт.)</div>
<div class="abs ll" style="left:314px;top:508.9px;width:153px"></div>
<div class="abs lbl" style="top:623.2px;right:535px">Фиксирующий зажим</div>
<div class="abs ll" style="left:290px;top:636.5px;width:177px"></div>
<div class="abs lbl" style="top:636.6px;right:535px">(4шт.)</div>
<div class="abs lbl" style="top:663.2px;right:535px">Стенка (8шт.)</div>
<div class="abs ll" style="left:294px;top:676.1px;width:173px"></div>
<div class="abs lbl" style="top:727.2px;right:535px">Прозрачная дверца (2шт.)</div>
<div class="abs ll" style="left:190px;top:741.5px;width:277px"></div>
<div class="abs lbl" style="top:766.2px;right:535px">Поилка (1шт.)</div>
<div class="abs ll" style="left:287px;top:780.5px;width:180px"></div>
<div class="abs lbl" style="top:806.6px;right:535px">Колесо (1шт.)</div>
<div class="abs ll" style="left:160px;top:819.5px;width:307px"></div>
<div class="abs lbl" style="top:827.0px;right:535px">Кормушка (1шт.)</div>
<div class="abs ll" style="left:172px;top:840.1px;width:295px"></div>
<div class="abs lbl" style="top:861.0px;right:535px">Поддон (1шт.)</div>
<div class="abs ll" style="left:246px;top:874.5px;width:221px"></div>
<!-- STEP TEXT -->
<div class="abs badge" style="left:56px;top:1248px"><span>1</span></div>
<div class="abs txt" style="left:110.5px;top:1247px;width:370.5px">
<div class="j">Вставьте два края каждой секции</div>
<div>в пластиковые зажимы до щелчка.</div>
<div class="j">Вертикальные прутья должны быть</div>
<div>снаружи конструкции.</div>
</div>

<div class="abs badge" style="left:505px;top:601px"><span style="position:relative;left:1px">2</span></div>
<div class="abs txt" style="left:558px;top:600px;width:369px">
<div class="j">Установите 12 зажимов на угловые стыки,</div>
<div class="j" style="letter-spacing:-0.06px">закрепите&nbsp; стенки между собой с помощью</div>
<div class="j">фиксаторов (рис. 2.1). Прикрепите две</div>
<div class="j">прозрачные дверцы к решеткам, как</div>
<div>показано на рисунке 2.2.</div>
<div>&nbsp;</div>
<div class="j">В любой из углов поддона вставьте</div>
<div class="j">кормушку и с помощью специальных</div>
<div class="j">отверстий соедините его с уже собранной</div>
<div>металлической конструкцией (рис. 2).</div>
</div>

<div class="abs badge" style="left:508px;top:1059px"><span style="position:relative;left:2px;top:3px">3</span></div>
<div class="abs txt" style="left:560.5px;top:1057px;width:372px">
<div class="j">Закрепите прозрачный туннель и веревки</div>
<div>согласно инструкции:</div>
<div class="j"><span class="d" style="width:15px">- </span>Установите туннель в специальное</div>
<div>отверстие с помощью краевых креплений.</div>
<div class="j">- Зафиксируйте каждый туннель в нижней</div>
<div>части платформы до щелчка.</div>
<div class="j" style="letter-spacing:-0.1px"><span class="d" style="width:16.5px">&nbsp;- </span>Завяжите один конец веревки одинарным</div>
<div>узлом, другой конец – двойным.</div>
<div class="j">- Закрепите край веревки с одним узлом</div>
<div class="j">в специальных отверстиях на всех трех</div>
<div>платформах.</div>
<div class="j">Домик может быть установлен</div>
<div class="j">в треугольную выемку на любой из двух</div>
<div>платформ.</div>
</div>
</body>
</html>
